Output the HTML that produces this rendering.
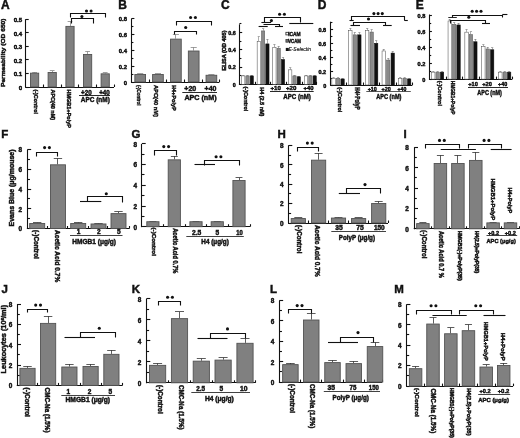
<!DOCTYPE html>
<html><head><meta charset="utf-8"><style>
html,body{margin:0;padding:0;background:#fff;}
svg{display:block;filter:blur(0.3px);}
text{font-family:"Liberation Sans", sans-serif;}
</style></head><body>
<svg width="520" height="438" viewBox="0 0 520 438" style='font-family:"Liberation Sans", sans-serif'>
<rect x="0" y="0" width="520" height="438" fill="#fff"/>
<text x="1" y="8.6" font-size="12" font-weight="bold" text-anchor="start" fill="#111" stroke="#111" stroke-width="0.45">A</text>
<line x1="25.5" y1="19.2" x2="25.5" y2="87.45" stroke="#111" stroke-width="1.1"/>
<line x1="25.25" y1="87.5" x2="114" y2="87.5" stroke="#111" stroke-width="1.1"/>
<line x1="114.5" y1="87" x2="114.5" y2="84.5" stroke="#111" stroke-width="1.1"/>
<line x1="25.7" y1="87.5" x2="28.7" y2="87.5" stroke="#111" stroke-width="1.1"/>
<text x="22.2" y="89.75" font-size="6.1" font-weight="bold" text-anchor="end" fill="#111" stroke="#111" stroke-width="0.45">0</text>
<line x1="25.7" y1="73.5" x2="28.7" y2="73.5" stroke="#111" stroke-width="1.1"/>
<text x="22.2" y="76.19" font-size="6.1" font-weight="bold" text-anchor="end" fill="#111" stroke="#111" stroke-width="0.45">0.1</text>
<line x1="25.7" y1="59.5" x2="28.7" y2="59.5" stroke="#111" stroke-width="1.1"/>
<text x="22.2" y="62.63" font-size="6.1" font-weight="bold" text-anchor="end" fill="#111" stroke="#111" stroke-width="0.45">0.2</text>
<line x1="25.7" y1="46.5" x2="28.7" y2="46.5" stroke="#111" stroke-width="1.1"/>
<text x="22.2" y="49.07" font-size="6.1" font-weight="bold" text-anchor="end" fill="#111" stroke="#111" stroke-width="0.45">0.3</text>
<line x1="25.7" y1="32.5" x2="28.7" y2="32.5" stroke="#111" stroke-width="1.1"/>
<text x="22.2" y="35.51" font-size="6.1" font-weight="bold" text-anchor="end" fill="#111" stroke="#111" stroke-width="0.45">0.4</text>
<line x1="25.7" y1="19.5" x2="28.7" y2="19.5" stroke="#111" stroke-width="1.1"/>
<text x="22.2" y="21.95" font-size="6.1" font-weight="bold" text-anchor="end" fill="#111" stroke="#111" stroke-width="0.45">0.5</text>
<line x1="43.5" y1="87" x2="43.5" y2="84.5" stroke="#111" stroke-width="1.1"/>
<line x1="61.5" y1="87" x2="61.5" y2="84.5" stroke="#111" stroke-width="1.1"/>
<line x1="78.5" y1="87" x2="78.5" y2="84.5" stroke="#111" stroke-width="1.1"/>
<line x1="96.5" y1="87" x2="96.5" y2="84.5" stroke="#111" stroke-width="1.1"/>
<line x1="34.5" y1="72.76" x2="34.5" y2="72.08" stroke="#888" stroke-width="0.8"/>
<line x1="32.22" y1="72.5" x2="36.98" y2="72.5" stroke="#888" stroke-width="0.8"/>
<rect x="30.5" y="73.16" width="8.2" height="13.84" fill="#808080" stroke="#525252" stroke-width="0.9"/>
<line x1="52.5" y1="72.08" x2="52.5" y2="71" stroke="#888" stroke-width="0.8"/>
<line x1="49.82" y1="70.5" x2="54.59" y2="70.5" stroke="#888" stroke-width="0.8"/>
<rect x="48.1" y="72.48" width="8.2" height="14.52" fill="#808080" stroke="#525252" stroke-width="0.9"/>
<line x1="70.5" y1="25.98" x2="70.5" y2="21.23" stroke="#888" stroke-width="0.8"/>
<line x1="67.61" y1="21.5" x2="72.39" y2="21.5" stroke="#888" stroke-width="0.8"/>
<rect x="65.9" y="26.38" width="8.2" height="60.62" fill="#808080" stroke="#525252" stroke-width="0.9"/>
<line x1="87.5" y1="54.05" x2="87.5" y2="51.34" stroke="#888" stroke-width="0.8"/>
<line x1="85.21" y1="51.5" x2="89.98" y2="51.5" stroke="#888" stroke-width="0.8"/>
<rect x="83.5" y="54.45" width="8.2" height="32.55" fill="#808080" stroke="#525252" stroke-width="0.9"/>
<line x1="105.5" y1="73.44" x2="105.5" y2="72.9" stroke="#888" stroke-width="0.8"/>
<line x1="102.81" y1="72.5" x2="107.59" y2="72.5" stroke="#888" stroke-width="0.8"/>
<rect x="101.1" y="73.84" width="8.2" height="13.16" fill="#808080" stroke="#525252" stroke-width="0.9"/>
<text transform="translate(33.5,89.5) rotate(90)" font-size="6" font-weight="bold" fill="#111" stroke="#111" stroke-width="0.45" textLength="24.5" lengthAdjust="spacingAndGlyphs">(-)Control</text>
<text transform="translate(50.6,89.5) rotate(90)" font-size="6" font-weight="bold" fill="#111" stroke="#111" stroke-width="0.45" textLength="30.5" lengthAdjust="spacingAndGlyphs">APC(40 nM)</text>
<text transform="translate(67.4,89.5) rotate(90)" font-size="6" font-weight="bold" fill="#111" stroke="#111" stroke-width="0.45" textLength="38.5" lengthAdjust="spacingAndGlyphs">HMGB1+PolyP</text>
<text x="86.4" y="94.5" font-size="6.6" font-weight="bold" text-anchor="middle" textLength="10.6" lengthAdjust="spacingAndGlyphs" fill="#111" stroke="#111" stroke-width="0.45">+20</text>
<text x="104.5" y="94.5" font-size="6.6" font-weight="bold" text-anchor="middle" textLength="10.6" lengthAdjust="spacingAndGlyphs" fill="#111" stroke="#111" stroke-width="0.45">+40</text>
<line x1="79" y1="95.5" x2="110" y2="95.5" stroke="#111" stroke-width="0.9"/>
<text x="80.8" y="102.4" font-size="6.9" font-weight="bold" text-anchor="start" textLength="29" lengthAdjust="spacingAndGlyphs" fill="#111" stroke="#111" stroke-width="0.45">APC (nM)</text>
<text transform="translate(5.2,87) rotate(-90)" font-size="6.2" font-weight="bold" fill="#111" stroke="#111" stroke-width="0.45" textLength="68.5" lengthAdjust="spacingAndGlyphs">Permeability (OD 650)</text>
<polyline points="70.5,17.5 70.5,13.5 105.5,13.5 105.5,17.5" fill="none" stroke="#111" stroke-width="1.1"/>
<circle cx="86.5" cy="11" r="1.55" fill="#111"/>
<circle cx="91.1" cy="11" r="1.55" fill="#111"/>
<polyline points="71.5,23.5 71.5,18.5 93.5,18.5 93.5,23.5" fill="none" stroke="#111" stroke-width="1.1"/>
<circle cx="81.9" cy="16.5" r="1.55" fill="#111"/>
<text x="118.3" y="8.6" font-size="12" font-weight="bold" text-anchor="start" fill="#111" stroke="#111" stroke-width="0.45">B</text>
<line x1="131.5" y1="18.6" x2="131.5" y2="82.45" stroke="#111" stroke-width="1.1"/>
<line x1="130.95" y1="82.5" x2="219.4" y2="82.5" stroke="#111" stroke-width="1.1"/>
<line x1="219.5" y1="82" x2="219.5" y2="79.5" stroke="#111" stroke-width="1.1"/>
<line x1="131.4" y1="82.5" x2="134.4" y2="82.5" stroke="#111" stroke-width="1.1"/>
<text x="127" y="84.67" font-size="5.9" font-weight="bold" text-anchor="end" fill="#111" stroke="#111" stroke-width="0.45">0</text>
<line x1="131.4" y1="66.5" x2="134.4" y2="66.5" stroke="#111" stroke-width="1.1"/>
<text x="127" y="68.82" font-size="5.9" font-weight="bold" text-anchor="end" fill="#111" stroke="#111" stroke-width="0.45">0.2</text>
<line x1="131.4" y1="50.5" x2="134.4" y2="50.5" stroke="#111" stroke-width="1.1"/>
<text x="127" y="52.97" font-size="5.9" font-weight="bold" text-anchor="end" fill="#111" stroke="#111" stroke-width="0.45">0.4</text>
<line x1="131.4" y1="34.5" x2="134.4" y2="34.5" stroke="#111" stroke-width="1.1"/>
<text x="127" y="37.12" font-size="5.9" font-weight="bold" text-anchor="end" fill="#111" stroke="#111" stroke-width="0.45">0.6</text>
<line x1="131.4" y1="18.5" x2="134.4" y2="18.5" stroke="#111" stroke-width="1.1"/>
<text x="127" y="21.27" font-size="5.9" font-weight="bold" text-anchor="end" fill="#111" stroke="#111" stroke-width="0.45">0.8</text>
<line x1="131.4" y1="74.5" x2="133.4" y2="74.5" stroke="#111" stroke-width="1.1"/>
<line x1="131.4" y1="58.5" x2="133.4" y2="58.5" stroke="#111" stroke-width="1.1"/>
<line x1="131.4" y1="42.5" x2="133.4" y2="42.5" stroke="#111" stroke-width="1.1"/>
<line x1="131.4" y1="26.5" x2="133.4" y2="26.5" stroke="#111" stroke-width="1.1"/>
<line x1="149.5" y1="82" x2="149.5" y2="79.5" stroke="#111" stroke-width="1.1"/>
<line x1="166.5" y1="82" x2="166.5" y2="79.5" stroke="#111" stroke-width="1.1"/>
<line x1="184.5" y1="82" x2="184.5" y2="79.5" stroke="#111" stroke-width="1.1"/>
<line x1="202.5" y1="82" x2="202.5" y2="79.5" stroke="#111" stroke-width="1.1"/>
<line x1="140.5" y1="74.08" x2="140.5" y2="73.84" stroke="#888" stroke-width="0.8"/>
<line x1="137.15" y1="73.5" x2="143.25" y2="73.5" stroke="#888" stroke-width="0.8"/>
<rect x="134.85" y="74.48" width="10.7" height="7.53" fill="#808080" stroke="#525252" stroke-width="0.9"/>
<line x1="157.5" y1="74.08" x2="157.5" y2="73.84" stroke="#888" stroke-width="0.8"/>
<line x1="154.9" y1="73.5" x2="161" y2="73.5" stroke="#888" stroke-width="0.8"/>
<rect x="152.6" y="74.48" width="10.7" height="7.53" fill="#808080" stroke="#525252" stroke-width="0.9"/>
<line x1="175.5" y1="38.73" x2="175.5" y2="34.21" stroke="#888" stroke-width="0.8"/>
<line x1="172.85" y1="34.5" x2="178.95" y2="34.5" stroke="#888" stroke-width="0.8"/>
<rect x="170.55" y="39.13" width="10.7" height="42.87" fill="#808080" stroke="#525252" stroke-width="0.9"/>
<line x1="193.5" y1="50.62" x2="193.5" y2="47.13" stroke="#888" stroke-width="0.8"/>
<line x1="190.65" y1="47.5" x2="196.75" y2="47.5" stroke="#888" stroke-width="0.8"/>
<rect x="188.35" y="51.02" width="10.7" height="30.98" fill="#808080" stroke="#525252" stroke-width="0.9"/>
<line x1="211.5" y1="74.87" x2="211.5" y2="74.63" stroke="#888" stroke-width="0.8"/>
<line x1="208.35" y1="74.5" x2="214.45" y2="74.5" stroke="#888" stroke-width="0.8"/>
<rect x="206.05" y="75.27" width="10.7" height="6.73" fill="#808080" stroke="#525252" stroke-width="0.9"/>
<text transform="translate(136.5,85) rotate(90)" font-size="6" font-weight="bold" fill="#111" stroke="#111" stroke-width="0.45" textLength="20.5" lengthAdjust="spacingAndGlyphs">(-)Control</text>
<text transform="translate(154.3,85) rotate(90)" font-size="6" font-weight="bold" fill="#111" stroke="#111" stroke-width="0.45" textLength="32" lengthAdjust="spacingAndGlyphs">APC(40 nM)</text>
<text transform="translate(172.2,85) rotate(90)" font-size="6" font-weight="bold" fill="#111" stroke="#111" stroke-width="0.45" textLength="25.8" lengthAdjust="spacingAndGlyphs">H4+PolyP</text>
<text x="190.3" y="90.8" font-size="7" font-weight="bold" text-anchor="middle" textLength="12" lengthAdjust="spacingAndGlyphs" fill="#111" stroke="#111" stroke-width="0.45">+20</text>
<text x="210.5" y="90.8" font-size="7" font-weight="bold" text-anchor="middle" textLength="11.8" lengthAdjust="spacingAndGlyphs" fill="#111" stroke="#111" stroke-width="0.45">+40</text>
<line x1="182.3" y1="92.5" x2="217" y2="92.5" stroke="#111" stroke-width="0.9"/>
<text x="184.4" y="99.7" font-size="7" font-weight="bold" text-anchor="start" textLength="32.2" lengthAdjust="spacingAndGlyphs" fill="#111" stroke="#111" stroke-width="0.45">APC (nM)</text>
<polyline points="176.5,25.5 176.5,21.5 211.5,21.5 211.5,25.5" fill="none" stroke="#111" stroke-width="1.1"/>
<circle cx="190.6" cy="17.5" r="1.55" fill="#111"/>
<circle cx="195.4" cy="17.5" r="1.55" fill="#111"/>
<polyline points="174.5,34.5 174.5,31.5 196.5,31.5 196.5,34.5" fill="none" stroke="#111" stroke-width="1.1"/>
<circle cx="185.7" cy="27.5" r="1.55" fill="#111"/>
<text x="221" y="8.6" font-size="12" font-weight="bold" text-anchor="start" fill="#111" stroke="#111" stroke-width="0.45">C</text>
<line x1="239.5" y1="24.3" x2="239.5" y2="84.75" stroke="#111" stroke-width="1.1"/>
<line x1="238.95" y1="84.5" x2="316.8" y2="84.5" stroke="#111" stroke-width="1.1"/>
<line x1="316.5" y1="84.3" x2="316.5" y2="81.8" stroke="#111" stroke-width="1.1"/>
<line x1="239.4" y1="84.5" x2="242.2" y2="84.5" stroke="#111" stroke-width="1.1"/>
<text x="235.7" y="86.79" font-size="5.4" font-weight="bold" text-anchor="end" fill="#111" stroke="#111" stroke-width="0.45">0</text>
<line x1="239.4" y1="67.5" x2="242.2" y2="67.5" stroke="#111" stroke-width="1.1"/>
<text x="235.7" y="69.49" font-size="5.4" font-weight="bold" text-anchor="end" fill="#111" stroke="#111" stroke-width="0.45">0.2</text>
<line x1="239.4" y1="49.5" x2="242.2" y2="49.5" stroke="#111" stroke-width="1.1"/>
<text x="235.7" y="52.19" font-size="5.4" font-weight="bold" text-anchor="end" fill="#111" stroke="#111" stroke-width="0.45">0.4</text>
<line x1="239.4" y1="32.5" x2="242.2" y2="32.5" stroke="#111" stroke-width="1.1"/>
<text x="235.7" y="34.89" font-size="5.4" font-weight="bold" text-anchor="end" fill="#111" stroke="#111" stroke-width="0.45">0.6</text>
<line x1="239.4" y1="75.5" x2="241.4" y2="75.5" stroke="#111" stroke-width="1.1"/>
<line x1="239.4" y1="58.5" x2="241.4" y2="58.5" stroke="#111" stroke-width="1.1"/>
<line x1="239.4" y1="41.5" x2="241.4" y2="41.5" stroke="#111" stroke-width="1.1"/>
<line x1="239.4" y1="23.5" x2="241.4" y2="23.5" stroke="#111" stroke-width="1.1"/>
<line x1="255.5" y1="84.3" x2="255.5" y2="81.8" stroke="#111" stroke-width="1.1"/>
<line x1="270.5" y1="84.3" x2="270.5" y2="81.8" stroke="#111" stroke-width="1.1"/>
<line x1="286.5" y1="84.3" x2="286.5" y2="81.8" stroke="#111" stroke-width="1.1"/>
<line x1="302.5" y1="84.3" x2="302.5" y2="81.8" stroke="#111" stroke-width="1.1"/>
<line x1="243.5" y1="75.65" x2="243.5" y2="75.22" stroke="#777" stroke-width="0.6"/>
<line x1="242.1" y1="75.5" x2="244.3" y2="75.5" stroke="#777" stroke-width="0.6"/>
<rect x="241.55" y="75.9" width="3.3" height="8.4" fill="#ffffff" stroke="#444" stroke-width="0.5"/>
<line x1="247.5" y1="75.65" x2="247.5" y2="75.22" stroke="#777" stroke-width="0.6"/>
<line x1="246.4" y1="75.5" x2="248.6" y2="75.5" stroke="#777" stroke-width="0.6"/>
<rect x="245.85" y="75.9" width="3.3" height="8.4" fill="#8a8a8a" stroke="#555" stroke-width="0.5"/>
<line x1="251.5" y1="75.65" x2="251.5" y2="75.22" stroke="#777" stroke-width="0.6"/>
<line x1="250.7" y1="75.5" x2="252.9" y2="75.5" stroke="#777" stroke-width="0.6"/>
<rect x="250.15" y="75.9" width="3.3" height="8.4" fill="#111111" stroke="#111" stroke-width="0.5"/>
<line x1="258.5" y1="41.05" x2="258.5" y2="36.72" stroke="#777" stroke-width="0.6"/>
<line x1="257.7" y1="36.5" x2="259.9" y2="36.5" stroke="#777" stroke-width="0.6"/>
<rect x="257.15" y="41.3" width="3.3" height="43" fill="#ffffff" stroke="#444" stroke-width="0.5"/>
<line x1="263.5" y1="30.67" x2="263.5" y2="28.94" stroke="#777" stroke-width="0.6"/>
<line x1="262" y1="28.5" x2="264.2" y2="28.5" stroke="#777" stroke-width="0.6"/>
<rect x="261.45" y="30.92" width="3.3" height="53.38" fill="#8a8a8a" stroke="#555" stroke-width="0.5"/>
<line x1="267.5" y1="43.64" x2="267.5" y2="39.32" stroke="#777" stroke-width="0.6"/>
<line x1="266.3" y1="39.5" x2="268.5" y2="39.5" stroke="#777" stroke-width="0.6"/>
<rect x="265.75" y="43.89" width="3.3" height="40.41" fill="#111111" stroke="#111" stroke-width="0.5"/>
<line x1="274.5" y1="47.1" x2="274.5" y2="44.51" stroke="#777" stroke-width="0.6"/>
<line x1="273.3" y1="44.5" x2="275.5" y2="44.5" stroke="#777" stroke-width="0.6"/>
<rect x="272.75" y="47.35" width="3.3" height="36.95" fill="#ffffff" stroke="#444" stroke-width="0.5"/>
<line x1="278.5" y1="47.97" x2="278.5" y2="46.24" stroke="#777" stroke-width="0.6"/>
<line x1="277.6" y1="46.5" x2="279.8" y2="46.5" stroke="#777" stroke-width="0.6"/>
<rect x="277.05" y="48.22" width="3.3" height="36.08" fill="#8a8a8a" stroke="#555" stroke-width="0.5"/>
<line x1="283.5" y1="59.22" x2="283.5" y2="57.49" stroke="#777" stroke-width="0.6"/>
<line x1="281.9" y1="57.5" x2="284.1" y2="57.5" stroke="#777" stroke-width="0.6"/>
<rect x="281.35" y="59.47" width="3.3" height="24.83" fill="#111111" stroke="#111" stroke-width="0.5"/>
<line x1="290.5" y1="69.59" x2="290.5" y2="67.86" stroke="#777" stroke-width="0.6"/>
<line x1="289.1" y1="67.5" x2="291.3" y2="67.5" stroke="#777" stroke-width="0.6"/>
<rect x="288.55" y="69.84" width="3.3" height="14.46" fill="#ffffff" stroke="#444" stroke-width="0.5"/>
<line x1="294.5" y1="75.65" x2="294.5" y2="75.22" stroke="#777" stroke-width="0.6"/>
<line x1="293.4" y1="75.5" x2="295.6" y2="75.5" stroke="#777" stroke-width="0.6"/>
<rect x="292.85" y="75.9" width="3.3" height="8.4" fill="#8a8a8a" stroke="#555" stroke-width="0.5"/>
<line x1="298.5" y1="76.52" x2="298.5" y2="76.08" stroke="#777" stroke-width="0.6"/>
<line x1="297.7" y1="76.5" x2="299.9" y2="76.5" stroke="#777" stroke-width="0.6"/>
<rect x="297.15" y="76.77" width="3.3" height="7.54" fill="#111111" stroke="#111" stroke-width="0.5"/>
<line x1="306.5" y1="75.65" x2="306.5" y2="75.22" stroke="#777" stroke-width="0.6"/>
<line x1="305" y1="75.5" x2="307.2" y2="75.5" stroke="#777" stroke-width="0.6"/>
<rect x="304.45" y="75.9" width="3.3" height="8.4" fill="#ffffff" stroke="#444" stroke-width="0.5"/>
<line x1="310.5" y1="75.65" x2="310.5" y2="75.22" stroke="#777" stroke-width="0.6"/>
<line x1="309.3" y1="75.5" x2="311.5" y2="75.5" stroke="#777" stroke-width="0.6"/>
<rect x="308.75" y="75.9" width="3.3" height="8.4" fill="#8a8a8a" stroke="#555" stroke-width="0.5"/>
<line x1="314.5" y1="75.65" x2="314.5" y2="75.22" stroke="#777" stroke-width="0.6"/>
<line x1="313.6" y1="75.5" x2="315.8" y2="75.5" stroke="#777" stroke-width="0.6"/>
<rect x="313.05" y="75.9" width="3.3" height="8.4" fill="#111111" stroke="#111" stroke-width="0.5"/>
<text transform="translate(244.4,86.5) rotate(90)" font-size="5.8" font-weight="bold" fill="#111" stroke="#111" stroke-width="0.45" textLength="24.8" lengthAdjust="spacingAndGlyphs">(-)Control</text>
<text transform="translate(260.2,87.2) rotate(90)" font-size="6" font-weight="bold" fill="#111" stroke="#111" stroke-width="0.45" textLength="29.2" lengthAdjust="spacingAndGlyphs">H4 (2.5 nM)</text>
<text x="275.7" y="90.3" font-size="6.2" font-weight="bold" text-anchor="middle" textLength="10.4" lengthAdjust="spacingAndGlyphs" fill="#111" stroke="#111" stroke-width="0.45">+10</text>
<text x="291.1" y="90.3" font-size="6.2" font-weight="bold" text-anchor="middle" textLength="10.4" lengthAdjust="spacingAndGlyphs" fill="#111" stroke="#111" stroke-width="0.45">+20</text>
<text x="308.6" y="90.3" font-size="6.2" font-weight="bold" text-anchor="middle" textLength="10" lengthAdjust="spacingAndGlyphs" fill="#111" stroke="#111" stroke-width="0.45">+40</text>
<line x1="270" y1="91.5" x2="313.7" y2="91.5" stroke="#111" stroke-width="0.9"/>
<text x="283.3" y="99.3" font-size="6.9" font-weight="bold" text-anchor="start" textLength="27.5" lengthAdjust="spacingAndGlyphs" fill="#111" stroke="#111" stroke-width="0.45">APC (nM)</text>
<text transform="translate(225.7,70.5) rotate(-90)" font-size="5" font-weight="bold" fill="#111" stroke="#111" stroke-width="0.45" textLength="40" lengthAdjust="spacingAndGlyphs">ELISA (OD 405)</text>
<rect x="285.9" y="32.3" width="2.6" height="2.6" fill="#fff" stroke="#222" stroke-width="0.8"/>
<text x="288.2" y="36.4" font-size="6" font-weight="bold" text-anchor="start" textLength="12.5" lengthAdjust="spacingAndGlyphs" fill="#111" stroke="#111" stroke-width="0.45">ICAM</text>
<rect x="285.9" y="39.4" width="2.6" height="2.8" fill="#707070" stroke="#333" stroke-width="0.7"/>
<text x="288.2" y="43.4" font-size="6" font-weight="bold" text-anchor="start" textLength="12.8" lengthAdjust="spacingAndGlyphs" fill="#111" stroke="#111" stroke-width="0.45">VCAM</text>
<rect x="285.8" y="47.9" width="3" height="3.1" fill="#111"/>
<text x="288.4" y="51" font-size="6.2" font-weight="normal" text-anchor="start" textLength="22.6" lengthAdjust="spacingAndGlyphs" font-style="italic" fill="#111" stroke="#111" stroke-width="0.15">E-Selectin</text>
<polyline points="264.5,22.5 264.5,17.5 300.5,17.5 300.5,22.5" fill="none" stroke="#111" stroke-width="1.1"/>
<circle cx="279.6" cy="14.2" r="1.55" fill="#111"/>
<circle cx="284.4" cy="14.2" r="1.55" fill="#111"/>
<line x1="289.3" y1="23.5" x2="313.3" y2="23.5" stroke="#111" stroke-width="1.1"/>
<circle cx="271.4" cy="20.6" r="1.55" fill="#111"/>
<line x1="261.4" y1="22.5" x2="271" y2="22.5" stroke="#111" stroke-width="1.1"/>
<polyline points="263.5,24.5 263.5,24.5 279.5,24.5 279.5,26.5" fill="none" stroke="#111" stroke-width="1.1"/>
<line x1="258.6" y1="26.5" x2="267.7" y2="26.5" stroke="#111" stroke-width="1.1"/>
<line x1="275" y1="26.5" x2="283" y2="26.5" stroke="#111" stroke-width="1.1"/>
<text x="317.8" y="8.6" font-size="12" font-weight="bold" text-anchor="start" fill="#111" stroke="#111" stroke-width="0.45">D</text>
<line x1="330.5" y1="21.7" x2="330.5" y2="85.45" stroke="#111" stroke-width="1.1"/>
<line x1="330.15" y1="85.5" x2="412.4" y2="85.5" stroke="#111" stroke-width="1.1"/>
<line x1="412.5" y1="85" x2="412.5" y2="82.5" stroke="#111" stroke-width="1.1"/>
<line x1="330.6" y1="85.5" x2="333.1" y2="85.5" stroke="#111" stroke-width="1.1"/>
<text x="326.2" y="87.53" font-size="5.5" font-weight="bold" text-anchor="end" fill="#111" stroke="#111" stroke-width="0.45">0</text>
<line x1="330.6" y1="71.5" x2="333.1" y2="71.5" stroke="#111" stroke-width="1.1"/>
<text x="326.2" y="73.53" font-size="5.5" font-weight="bold" text-anchor="end" fill="#111" stroke="#111" stroke-width="0.45">0.2</text>
<line x1="330.6" y1="57.5" x2="333.1" y2="57.5" stroke="#111" stroke-width="1.1"/>
<text x="326.2" y="59.53" font-size="5.5" font-weight="bold" text-anchor="end" fill="#111" stroke="#111" stroke-width="0.45">0.4</text>
<line x1="330.6" y1="43.5" x2="333.1" y2="43.5" stroke="#111" stroke-width="1.1"/>
<text x="326.2" y="45.53" font-size="5.5" font-weight="bold" text-anchor="end" fill="#111" stroke="#111" stroke-width="0.45">0.6</text>
<line x1="330.6" y1="29.5" x2="333.1" y2="29.5" stroke="#111" stroke-width="1.1"/>
<text x="326.2" y="31.53" font-size="5.5" font-weight="bold" text-anchor="end" fill="#111" stroke="#111" stroke-width="0.45">0.8</text>
<line x1="330.6" y1="78.5" x2="332.4" y2="78.5" stroke="#111" stroke-width="1.1"/>
<line x1="330.6" y1="64.5" x2="332.4" y2="64.5" stroke="#111" stroke-width="1.1"/>
<line x1="330.6" y1="50.5" x2="332.4" y2="50.5" stroke="#111" stroke-width="1.1"/>
<line x1="330.6" y1="36.5" x2="332.4" y2="36.5" stroke="#111" stroke-width="1.1"/>
<line x1="330.6" y1="22.5" x2="332.4" y2="22.5" stroke="#111" stroke-width="1.1"/>
<line x1="346.5" y1="85" x2="346.5" y2="82.5" stroke="#111" stroke-width="1.1"/>
<line x1="363.5" y1="85" x2="363.5" y2="82.5" stroke="#111" stroke-width="1.1"/>
<line x1="379.5" y1="85" x2="379.5" y2="82.5" stroke="#111" stroke-width="1.1"/>
<line x1="396.5" y1="85" x2="396.5" y2="82.5" stroke="#111" stroke-width="1.1"/>
<line x1="333.5" y1="78" x2="333.5" y2="77.65" stroke="#777" stroke-width="0.6"/>
<line x1="332.45" y1="77.5" x2="334.65" y2="77.5" stroke="#777" stroke-width="0.6"/>
<rect x="331.85" y="78.25" width="3.4" height="6.75" fill="#ffffff" stroke="#444" stroke-width="0.5"/>
<line x1="338.5" y1="78" x2="338.5" y2="77.65" stroke="#777" stroke-width="0.6"/>
<line x1="336.95" y1="77.5" x2="339.15" y2="77.5" stroke="#777" stroke-width="0.6"/>
<rect x="336.35" y="78.25" width="3.4" height="6.75" fill="#8a8a8a" stroke="#555" stroke-width="0.5"/>
<line x1="342.5" y1="78.7" x2="342.5" y2="78.35" stroke="#777" stroke-width="0.6"/>
<line x1="341.45" y1="78.5" x2="343.65" y2="78.5" stroke="#777" stroke-width="0.6"/>
<rect x="340.85" y="78.95" width="3.4" height="6.05" fill="#111111" stroke="#111" stroke-width="0.5"/>
<line x1="350.5" y1="30.4" x2="350.5" y2="28.3" stroke="#777" stroke-width="0.6"/>
<line x1="349.25" y1="28.5" x2="351.45" y2="28.5" stroke="#777" stroke-width="0.6"/>
<rect x="348.65" y="30.65" width="3.4" height="54.35" fill="#ffffff" stroke="#444" stroke-width="0.5"/>
<line x1="354.5" y1="34.6" x2="354.5" y2="32.5" stroke="#777" stroke-width="0.6"/>
<line x1="353.75" y1="32.5" x2="355.95" y2="32.5" stroke="#777" stroke-width="0.6"/>
<rect x="353.15" y="34.85" width="3.4" height="50.15" fill="#8a8a8a" stroke="#555" stroke-width="0.5"/>
<line x1="359.5" y1="34.6" x2="359.5" y2="32.5" stroke="#777" stroke-width="0.6"/>
<line x1="358.25" y1="32.5" x2="360.45" y2="32.5" stroke="#777" stroke-width="0.6"/>
<rect x="357.65" y="34.85" width="3.4" height="50.15" fill="#111111" stroke="#111" stroke-width="0.5"/>
<line x1="367.5" y1="30.4" x2="367.5" y2="28.3" stroke="#777" stroke-width="0.6"/>
<line x1="366.05" y1="28.5" x2="368.25" y2="28.5" stroke="#777" stroke-width="0.6"/>
<rect x="365.45" y="30.65" width="3.4" height="54.35" fill="#ffffff" stroke="#444" stroke-width="0.5"/>
<line x1="371.5" y1="31.8" x2="371.5" y2="29.7" stroke="#777" stroke-width="0.6"/>
<line x1="370.55" y1="29.5" x2="372.75" y2="29.5" stroke="#777" stroke-width="0.6"/>
<rect x="369.95" y="32.05" width="3.4" height="52.95" fill="#8a8a8a" stroke="#555" stroke-width="0.5"/>
<line x1="376.5" y1="43" x2="376.5" y2="40.9" stroke="#777" stroke-width="0.6"/>
<line x1="375.05" y1="40.5" x2="377.25" y2="40.5" stroke="#777" stroke-width="0.6"/>
<rect x="374.45" y="43.25" width="3.4" height="41.75" fill="#111111" stroke="#111" stroke-width="0.5"/>
<line x1="383.5" y1="50.7" x2="383.5" y2="49.3" stroke="#777" stroke-width="0.6"/>
<line x1="382.65" y1="49.5" x2="384.85" y2="49.5" stroke="#777" stroke-width="0.6"/>
<rect x="382.05" y="50.95" width="3.4" height="34.05" fill="#ffffff" stroke="#444" stroke-width="0.5"/>
<line x1="388.5" y1="59.8" x2="388.5" y2="58.4" stroke="#777" stroke-width="0.6"/>
<line x1="387.15" y1="58.5" x2="389.35" y2="58.5" stroke="#777" stroke-width="0.6"/>
<rect x="386.55" y="60.05" width="3.4" height="24.95" fill="#8a8a8a" stroke="#555" stroke-width="0.5"/>
<line x1="392.5" y1="52.8" x2="392.5" y2="51.4" stroke="#777" stroke-width="0.6"/>
<line x1="391.65" y1="51.5" x2="393.85" y2="51.5" stroke="#777" stroke-width="0.6"/>
<rect x="391.05" y="53.05" width="3.4" height="31.95" fill="#111111" stroke="#111" stroke-width="0.5"/>
<line x1="400.5" y1="78" x2="400.5" y2="77.65" stroke="#777" stroke-width="0.6"/>
<line x1="399.05" y1="77.5" x2="401.25" y2="77.5" stroke="#777" stroke-width="0.6"/>
<rect x="398.45" y="78.25" width="3.4" height="6.75" fill="#ffffff" stroke="#444" stroke-width="0.5"/>
<line x1="404.5" y1="78" x2="404.5" y2="77.65" stroke="#777" stroke-width="0.6"/>
<line x1="403.55" y1="77.5" x2="405.75" y2="77.5" stroke="#777" stroke-width="0.6"/>
<rect x="402.95" y="78.25" width="3.4" height="6.75" fill="#8a8a8a" stroke="#555" stroke-width="0.5"/>
<line x1="409.5" y1="78.7" x2="409.5" y2="78.35" stroke="#777" stroke-width="0.6"/>
<line x1="408.05" y1="78.5" x2="410.25" y2="78.5" stroke="#777" stroke-width="0.6"/>
<rect x="407.45" y="78.95" width="3.4" height="6.05" fill="#111111" stroke="#111" stroke-width="0.5"/>
<text transform="translate(338.2,87.2) rotate(90)" font-size="6.2" font-weight="bold" fill="#111" stroke="#111" stroke-width="0.45" textLength="25.2" lengthAdjust="spacingAndGlyphs">(-)Control</text>
<text transform="translate(354.6,87.2) rotate(90)" font-size="6.6" font-weight="bold" fill="#111" stroke="#111" stroke-width="0.45" textLength="22.4" lengthAdjust="spacingAndGlyphs">H4+PolyP</text>
<text x="372.3" y="90.8" font-size="6.2" font-weight="bold" text-anchor="middle" textLength="9.2" lengthAdjust="spacingAndGlyphs" fill="#111" stroke="#111" stroke-width="0.45">+10</text>
<text x="386.2" y="90.8" font-size="6.2" font-weight="bold" text-anchor="middle" textLength="9.2" lengthAdjust="spacingAndGlyphs" fill="#111" stroke="#111" stroke-width="0.45">+20</text>
<text x="401.9" y="90.8" font-size="6.2" font-weight="bold" text-anchor="middle" textLength="8.8" lengthAdjust="spacingAndGlyphs" fill="#111" stroke="#111" stroke-width="0.45">+40</text>
<line x1="366.3" y1="91.5" x2="410.8" y2="91.5" stroke="#111" stroke-width="0.7"/>
<text x="376.3" y="99.3" font-size="6.9" font-weight="bold" text-anchor="start" textLength="25.1" lengthAdjust="spacingAndGlyphs" fill="#111" stroke="#111" stroke-width="0.45">APC (nM)</text>
<polyline points="351.5,20.5 351.5,16.5 404.5,16.5 404.5,20.5" fill="none" stroke="#111" stroke-width="1.1"/>
<line x1="404.4" y1="20.5" x2="407.8" y2="20.5" stroke="#111" stroke-width="1.1"/>
<circle cx="373.9" cy="13.6" r="1.55" fill="#111"/>
<circle cx="378.1" cy="13.6" r="1.55" fill="#111"/>
<circle cx="382.3" cy="13.6" r="1.55" fill="#111"/>
<line x1="349.5" y1="20.5" x2="353.7" y2="20.5" stroke="#111" stroke-width="1.1"/>
<polyline points="353.5,25.5 353.5,22.5 385.5,22.5 385.5,25.5" fill="none" stroke="#111" stroke-width="1.1"/>
<circle cx="368.5" cy="19" r="1.55" fill="#111"/>
<line x1="350.5" y1="25.5" x2="360" y2="25.5" stroke="#111" stroke-width="1.1"/>
<line x1="383" y1="25.5" x2="391.7" y2="25.5" stroke="#111" stroke-width="1.1"/>
<text x="415.8" y="8.6" font-size="12" font-weight="bold" text-anchor="start" fill="#111" stroke="#111" stroke-width="0.45">E</text>
<line x1="429.5" y1="14.5" x2="429.5" y2="79.55" stroke="#111" stroke-width="1.1"/>
<line x1="428.95" y1="79.5" x2="512.3" y2="79.5" stroke="#111" stroke-width="1.1"/>
<line x1="512.5" y1="79.1" x2="512.5" y2="76.6" stroke="#111" stroke-width="1.1"/>
<line x1="429.4" y1="79.5" x2="431.9" y2="79.5" stroke="#111" stroke-width="1.1"/>
<text x="425.4" y="81.67" font-size="5.6" font-weight="bold" text-anchor="end" fill="#111" stroke="#111" stroke-width="0.45">0</text>
<line x1="429.4" y1="63.5" x2="431.9" y2="63.5" stroke="#111" stroke-width="1.1"/>
<text x="425.4" y="65.67" font-size="5.6" font-weight="bold" text-anchor="end" fill="#111" stroke="#111" stroke-width="0.45">0.2</text>
<line x1="429.4" y1="47.5" x2="431.9" y2="47.5" stroke="#111" stroke-width="1.1"/>
<text x="425.4" y="49.67" font-size="5.6" font-weight="bold" text-anchor="end" fill="#111" stroke="#111" stroke-width="0.45">0.4</text>
<line x1="429.4" y1="31.5" x2="431.9" y2="31.5" stroke="#111" stroke-width="1.1"/>
<text x="425.4" y="33.67" font-size="5.6" font-weight="bold" text-anchor="end" fill="#111" stroke="#111" stroke-width="0.45">0.6</text>
<line x1="429.4" y1="15.5" x2="431.9" y2="15.5" stroke="#111" stroke-width="1.1"/>
<text x="425.4" y="17.67" font-size="5.6" font-weight="bold" text-anchor="end" fill="#111" stroke="#111" stroke-width="0.45">0.8</text>
<line x1="429.4" y1="71.5" x2="431.2" y2="71.5" stroke="#111" stroke-width="1.1"/>
<line x1="429.4" y1="55.5" x2="431.2" y2="55.5" stroke="#111" stroke-width="1.1"/>
<line x1="429.4" y1="39.5" x2="431.2" y2="39.5" stroke="#111" stroke-width="1.1"/>
<line x1="429.4" y1="23.5" x2="431.2" y2="23.5" stroke="#111" stroke-width="1.1"/>
<line x1="446.5" y1="79.1" x2="446.5" y2="76.6" stroke="#111" stroke-width="1.1"/>
<line x1="462.5" y1="79.1" x2="462.5" y2="76.6" stroke="#111" stroke-width="1.1"/>
<line x1="479.5" y1="79.1" x2="479.5" y2="76.6" stroke="#111" stroke-width="1.1"/>
<line x1="496.5" y1="79.1" x2="496.5" y2="76.6" stroke="#111" stroke-width="1.1"/>
<line x1="433.5" y1="71.9" x2="433.5" y2="71.5" stroke="#777" stroke-width="0.6"/>
<line x1="432.15" y1="71.5" x2="434.35" y2="71.5" stroke="#777" stroke-width="0.6"/>
<rect x="431.55" y="72.15" width="3.4" height="6.95" fill="#ffffff" stroke="#444" stroke-width="0.5"/>
<line x1="437.5" y1="71.9" x2="437.5" y2="71.5" stroke="#777" stroke-width="0.6"/>
<line x1="436.55" y1="71.5" x2="438.75" y2="71.5" stroke="#777" stroke-width="0.6"/>
<rect x="435.95" y="72.15" width="3.4" height="6.95" fill="#8a8a8a" stroke="#555" stroke-width="0.5"/>
<line x1="442.5" y1="71.9" x2="442.5" y2="71.5" stroke="#777" stroke-width="0.6"/>
<line x1="440.95" y1="71.5" x2="443.15" y2="71.5" stroke="#777" stroke-width="0.6"/>
<rect x="440.35" y="72.15" width="3.4" height="6.95" fill="#111111" stroke="#111" stroke-width="0.5"/>
<line x1="449.5" y1="20.7" x2="449.5" y2="19.1" stroke="#777" stroke-width="0.6"/>
<line x1="448.65" y1="19.5" x2="450.85" y2="19.5" stroke="#777" stroke-width="0.6"/>
<rect x="448.05" y="20.95" width="3.4" height="58.15" fill="#ffffff" stroke="#444" stroke-width="0.5"/>
<line x1="454.5" y1="24.06" x2="454.5" y2="22.46" stroke="#777" stroke-width="0.6"/>
<line x1="453.05" y1="22.5" x2="455.25" y2="22.5" stroke="#777" stroke-width="0.6"/>
<rect x="452.45" y="24.31" width="3.4" height="54.79" fill="#8a8a8a" stroke="#555" stroke-width="0.5"/>
<line x1="458.5" y1="24.7" x2="458.5" y2="23.1" stroke="#777" stroke-width="0.6"/>
<line x1="457.45" y1="23.5" x2="459.65" y2="23.5" stroke="#777" stroke-width="0.6"/>
<rect x="456.85" y="24.95" width="3.4" height="54.15" fill="#111111" stroke="#111" stroke-width="0.5"/>
<line x1="466.5" y1="31.9" x2="466.5" y2="29.5" stroke="#777" stroke-width="0.6"/>
<line x1="465.45" y1="29.5" x2="467.65" y2="29.5" stroke="#777" stroke-width="0.6"/>
<rect x="464.85" y="32.15" width="3.4" height="46.95" fill="#ffffff" stroke="#444" stroke-width="0.5"/>
<line x1="470.5" y1="34.3" x2="470.5" y2="31.9" stroke="#777" stroke-width="0.6"/>
<line x1="469.85" y1="31.5" x2="472.05" y2="31.5" stroke="#777" stroke-width="0.6"/>
<rect x="469.25" y="34.55" width="3.4" height="44.55" fill="#8a8a8a" stroke="#555" stroke-width="0.5"/>
<line x1="475.5" y1="41.5" x2="475.5" y2="39.1" stroke="#777" stroke-width="0.6"/>
<line x1="474.25" y1="39.5" x2="476.45" y2="39.5" stroke="#777" stroke-width="0.6"/>
<rect x="473.65" y="41.75" width="3.4" height="37.35" fill="#111111" stroke="#111" stroke-width="0.5"/>
<line x1="483.5" y1="46.3" x2="483.5" y2="44.7" stroke="#777" stroke-width="0.6"/>
<line x1="482.25" y1="44.5" x2="484.45" y2="44.5" stroke="#777" stroke-width="0.6"/>
<rect x="481.65" y="46.55" width="3.4" height="32.55" fill="#ffffff" stroke="#444" stroke-width="0.5"/>
<line x1="487.5" y1="48.7" x2="487.5" y2="47.1" stroke="#777" stroke-width="0.6"/>
<line x1="486.65" y1="47.5" x2="488.85" y2="47.5" stroke="#777" stroke-width="0.6"/>
<rect x="486.05" y="48.95" width="3.4" height="30.15" fill="#8a8a8a" stroke="#555" stroke-width="0.5"/>
<line x1="492.5" y1="49.5" x2="492.5" y2="47.9" stroke="#777" stroke-width="0.6"/>
<line x1="491.05" y1="47.5" x2="493.25" y2="47.5" stroke="#777" stroke-width="0.6"/>
<rect x="490.45" y="49.75" width="3.4" height="29.35" fill="#111111" stroke="#111" stroke-width="0.5"/>
<line x1="500.5" y1="71.9" x2="500.5" y2="71.5" stroke="#777" stroke-width="0.6"/>
<line x1="499.25" y1="71.5" x2="501.45" y2="71.5" stroke="#777" stroke-width="0.6"/>
<rect x="498.65" y="72.15" width="3.4" height="6.95" fill="#ffffff" stroke="#444" stroke-width="0.5"/>
<line x1="504.5" y1="71.9" x2="504.5" y2="71.5" stroke="#777" stroke-width="0.6"/>
<line x1="503.65" y1="71.5" x2="505.85" y2="71.5" stroke="#777" stroke-width="0.6"/>
<rect x="503.05" y="72.15" width="3.4" height="6.95" fill="#8a8a8a" stroke="#555" stroke-width="0.5"/>
<line x1="509.5" y1="71.9" x2="509.5" y2="71.5" stroke="#777" stroke-width="0.6"/>
<line x1="508.05" y1="71.5" x2="510.25" y2="71.5" stroke="#777" stroke-width="0.6"/>
<rect x="507.45" y="72.15" width="3.4" height="6.95" fill="#111111" stroke="#111" stroke-width="0.5"/>
<text transform="translate(437.8,80.7) rotate(90)" font-size="6.2" font-weight="bold" fill="#111" stroke="#111" stroke-width="0.45" textLength="25.3" lengthAdjust="spacingAndGlyphs">(-)Control</text>
<text transform="translate(451.4,80.7) rotate(90)" font-size="6" font-weight="bold" fill="#111" stroke="#111" stroke-width="0.45" textLength="33.8" lengthAdjust="spacingAndGlyphs">HMGB1+PolyP</text>
<text x="473.1" y="86.2" font-size="6.2" font-weight="bold" text-anchor="middle" textLength="9.6" lengthAdjust="spacingAndGlyphs" fill="#111" stroke="#111" stroke-width="0.45">+10</text>
<text x="487" y="86.2" font-size="6.2" font-weight="bold" text-anchor="middle" textLength="9.6" lengthAdjust="spacingAndGlyphs" fill="#111" stroke="#111" stroke-width="0.45">+20</text>
<text x="502.6" y="86.2" font-size="6.2" font-weight="bold" text-anchor="middle" textLength="9.2" lengthAdjust="spacingAndGlyphs" fill="#111" stroke="#111" stroke-width="0.45">+40</text>
<line x1="468" y1="87.5" x2="508" y2="87.5" stroke="#111" stroke-width="0.9"/>
<text x="477.3" y="94.8" font-size="6.9" font-weight="bold" text-anchor="start" textLength="24.6" lengthAdjust="spacingAndGlyphs" fill="#111" stroke="#111" stroke-width="0.45">APC (nM)</text>
<polyline points="452.5,17.5 452.5,15.5 502.5,15.5 502.5,17.5" fill="none" stroke="#111" stroke-width="1.1"/>
<line x1="502.3" y1="14.5" x2="507.4" y2="14.5" stroke="#111" stroke-width="1.1"/>
<line x1="448.3" y1="17.5" x2="456.8" y2="17.5" stroke="#111" stroke-width="0.9"/>
<circle cx="472.2" cy="11.3" r="1.55" fill="#111"/>
<circle cx="476.6" cy="11.3" r="1.55" fill="#111"/>
<circle cx="481" cy="11.3" r="1.55" fill="#111"/>
<polyline points="450.5,23.5 450.5,20.5 485.5,20.5 485.5,23.5" fill="none" stroke="#111" stroke-width="1.1"/>
<line x1="482" y1="23.5" x2="490" y2="23.5" stroke="#111" stroke-width="1.1"/>
<circle cx="468.8" cy="17.3" r="1.55" fill="#111"/>
<text x="1.3" y="138.4" font-size="11.5" font-weight="bold" text-anchor="start" fill="#111" stroke="#111" stroke-width="0.45">F</text>
<line x1="27.5" y1="149.6" x2="27.5" y2="228.95" stroke="#111" stroke-width="1.1"/>
<line x1="26.9" y1="228.5" x2="129.5" y2="228.5" stroke="#111" stroke-width="1.1"/>
<line x1="129.5" y1="228.5" x2="129.5" y2="226" stroke="#111" stroke-width="1.1"/>
<line x1="27.35" y1="228.5" x2="31.15" y2="228.5" stroke="#111" stroke-width="1.1"/>
<text x="22" y="231.35" font-size="6.4" font-weight="bold" text-anchor="end" fill="#111" stroke="#111" stroke-width="0.45">0</text>
<line x1="27.35" y1="208.5" x2="31.15" y2="208.5" stroke="#111" stroke-width="1.1"/>
<text x="22" y="211.63" font-size="6.4" font-weight="bold" text-anchor="end" fill="#111" stroke="#111" stroke-width="0.45">2</text>
<line x1="27.35" y1="189.5" x2="31.15" y2="189.5" stroke="#111" stroke-width="1.1"/>
<text x="22" y="191.91" font-size="6.4" font-weight="bold" text-anchor="end" fill="#111" stroke="#111" stroke-width="0.45">4</text>
<line x1="27.35" y1="169.5" x2="31.15" y2="169.5" stroke="#111" stroke-width="1.1"/>
<text x="22" y="172.19" font-size="6.4" font-weight="bold" text-anchor="end" fill="#111" stroke="#111" stroke-width="0.45">6</text>
<line x1="27.35" y1="149.5" x2="31.15" y2="149.5" stroke="#111" stroke-width="1.1"/>
<text x="22" y="152.47" font-size="6.4" font-weight="bold" text-anchor="end" fill="#111" stroke="#111" stroke-width="0.45">8</text>
<line x1="27.35" y1="218.5" x2="29.95" y2="218.5" stroke="#111" stroke-width="1.1"/>
<line x1="27.35" y1="198.5" x2="29.95" y2="198.5" stroke="#111" stroke-width="1.1"/>
<line x1="27.35" y1="179.5" x2="29.95" y2="179.5" stroke="#111" stroke-width="1.1"/>
<line x1="27.35" y1="159.5" x2="29.95" y2="159.5" stroke="#111" stroke-width="1.1"/>
<line x1="47.5" y1="228.5" x2="47.5" y2="226" stroke="#111" stroke-width="1.1"/>
<line x1="67.5" y1="228.5" x2="67.5" y2="226" stroke="#111" stroke-width="1.1"/>
<line x1="88.5" y1="228.5" x2="88.5" y2="226" stroke="#111" stroke-width="1.1"/>
<line x1="107.5" y1="228.5" x2="107.5" y2="226" stroke="#111" stroke-width="1.1"/>
<line x1="37.5" y1="223.08" x2="37.5" y2="222.78" stroke="#333" stroke-width="0.8"/>
<line x1="33.01" y1="222.5" x2="41.39" y2="222.5" stroke="#333" stroke-width="0.8"/>
<rect x="29.7" y="223.48" width="15" height="5.02" fill="#808080" stroke="#525252" stroke-width="0.9"/>
<line x1="57.5" y1="164.41" x2="57.5" y2="158.3" stroke="#333" stroke-width="0.8"/>
<line x1="53.76" y1="158.5" x2="62.14" y2="158.5" stroke="#333" stroke-width="0.8"/>
<rect x="50.45" y="164.81" width="15" height="63.69" fill="#808080" stroke="#525252" stroke-width="0.9"/>
<line x1="78.5" y1="223.08" x2="78.5" y2="222.58" stroke="#333" stroke-width="0.8"/>
<line x1="74.01" y1="222.5" x2="82.39" y2="222.5" stroke="#333" stroke-width="0.8"/>
<rect x="70.7" y="223.48" width="15" height="5.02" fill="#808080" stroke="#525252" stroke-width="0.9"/>
<line x1="98.5" y1="223.57" x2="98.5" y2="223.08" stroke="#333" stroke-width="0.8"/>
<line x1="94.31" y1="223.5" x2="102.69" y2="223.5" stroke="#333" stroke-width="0.8"/>
<rect x="91" y="223.97" width="15" height="4.53" fill="#808080" stroke="#525252" stroke-width="0.9"/>
<line x1="118.5" y1="213.22" x2="118.5" y2="211.74" stroke="#333" stroke-width="0.8"/>
<line x1="114.31" y1="211.5" x2="122.69" y2="211.5" stroke="#333" stroke-width="0.8"/>
<rect x="111" y="213.62" width="15" height="14.88" fill="#808080" stroke="#525252" stroke-width="0.9"/>
<text transform="translate(34.3,230.1) rotate(90)" font-size="6.3" font-weight="bold" fill="#111" stroke="#111" stroke-width="0.45" textLength="28.7" lengthAdjust="spacingAndGlyphs">(-)Control</text>
<text transform="translate(54.9,230.1) rotate(90)" font-size="6.7" font-weight="bold" fill="#111" stroke="#111" stroke-width="0.45" textLength="52.1" lengthAdjust="spacingAndGlyphs">Acetic Acid 0.7%</text>
<text x="78.5" y="234.4" font-size="6.5" font-weight="bold" text-anchor="middle" fill="#111" stroke="#111" stroke-width="0.45">1</text>
<text x="98.9" y="234.4" font-size="6.5" font-weight="bold" text-anchor="middle" fill="#111" stroke="#111" stroke-width="0.45">2</text>
<text x="118.8" y="234.4" font-size="6.5" font-weight="bold" text-anchor="middle" fill="#111" stroke="#111" stroke-width="0.45">5</text>
<line x1="70" y1="235.5" x2="122.5" y2="235.5" stroke="#111" stroke-width="0.8"/>
<text x="72.3" y="244.2" font-size="6.8" font-weight="bold" text-anchor="start" textLength="43.6" lengthAdjust="spacingAndGlyphs" fill="#111" stroke="#111" stroke-width="0.45">HMGB1 (μg/g)</text>
<text transform="translate(14.4,226.5) rotate(-90)" font-size="6.8" font-weight="bold" fill="#111" stroke="#111" stroke-width="0.45" textLength="77" lengthAdjust="spacingAndGlyphs">Evans Blue (μg/mouse)</text>
<polyline points="36.5,156.5 36.5,152.5 57.5,152.5 57.5,156.5" fill="none" stroke="#111" stroke-width="1.1"/>
<circle cx="44.6" cy="147.6" r="1.55" fill="#111"/>
<circle cx="49.4" cy="147.6" r="1.55" fill="#111"/>
<polyline points="87.5,201.5 87.5,196.5 122.5,196.5 122.5,202.5" fill="none" stroke="#111" stroke-width="1.1"/>
<line x1="80" y1="201.5" x2="101.3" y2="201.5" stroke="#111" stroke-width="1.1"/>
<circle cx="106.3" cy="193.8" r="1.55" fill="#111"/>
<text x="131.6" y="138.4" font-size="11.5" font-weight="bold" text-anchor="start" fill="#111" stroke="#111" stroke-width="0.45">G</text>
<line x1="141.5" y1="143.9" x2="141.5" y2="227.15" stroke="#111" stroke-width="1.1"/>
<line x1="141.45" y1="226.5" x2="250" y2="226.5" stroke="#111" stroke-width="1.1"/>
<line x1="250.5" y1="226.7" x2="250.5" y2="224.2" stroke="#111" stroke-width="1.1"/>
<line x1="141.9" y1="226.5" x2="145.7" y2="226.5" stroke="#111" stroke-width="1.1"/>
<text x="137" y="229.55" font-size="6.4" font-weight="bold" text-anchor="end" fill="#111" stroke="#111" stroke-width="0.45">0</text>
<line x1="141.9" y1="206.5" x2="145.7" y2="206.5" stroke="#111" stroke-width="1.1"/>
<text x="137" y="208.85" font-size="6.4" font-weight="bold" text-anchor="end" fill="#111" stroke="#111" stroke-width="0.45">2</text>
<line x1="141.9" y1="185.5" x2="145.7" y2="185.5" stroke="#111" stroke-width="1.1"/>
<text x="137" y="188.15" font-size="6.4" font-weight="bold" text-anchor="end" fill="#111" stroke="#111" stroke-width="0.45">4</text>
<line x1="141.9" y1="164.5" x2="145.7" y2="164.5" stroke="#111" stroke-width="1.1"/>
<text x="137" y="167.45" font-size="6.4" font-weight="bold" text-anchor="end" fill="#111" stroke="#111" stroke-width="0.45">6</text>
<line x1="141.9" y1="143.5" x2="145.7" y2="143.5" stroke="#111" stroke-width="1.1"/>
<text x="137" y="146.75" font-size="6.4" font-weight="bold" text-anchor="end" fill="#111" stroke="#111" stroke-width="0.45">8</text>
<line x1="141.9" y1="216.5" x2="144.5" y2="216.5" stroke="#111" stroke-width="1.1"/>
<line x1="141.9" y1="195.5" x2="144.5" y2="195.5" stroke="#111" stroke-width="1.1"/>
<line x1="141.9" y1="174.5" x2="144.5" y2="174.5" stroke="#111" stroke-width="1.1"/>
<line x1="141.9" y1="154.5" x2="144.5" y2="154.5" stroke="#111" stroke-width="1.1"/>
<line x1="163.5" y1="226.7" x2="163.5" y2="224.2" stroke="#111" stroke-width="1.1"/>
<line x1="185.5" y1="226.7" x2="185.5" y2="224.2" stroke="#111" stroke-width="1.1"/>
<line x1="206.5" y1="226.7" x2="206.5" y2="224.2" stroke="#111" stroke-width="1.1"/>
<line x1="228.5" y1="226.7" x2="228.5" y2="224.2" stroke="#111" stroke-width="1.1"/>
<line x1="152.5" y1="221.32" x2="152.5" y2="221.01" stroke="#333" stroke-width="0.8"/>
<line x1="149.46" y1="221.5" x2="156.34" y2="221.5" stroke="#333" stroke-width="0.8"/>
<rect x="146.8" y="221.72" width="12.2" height="4.98" fill="#808080" stroke="#525252" stroke-width="0.9"/>
<line x1="174.5" y1="159.43" x2="174.5" y2="156.01" stroke="#333" stroke-width="0.8"/>
<line x1="170.86" y1="156.5" x2="177.75" y2="156.5" stroke="#333" stroke-width="0.8"/>
<rect x="168.2" y="159.83" width="12.2" height="66.87" fill="#808080" stroke="#525252" stroke-width="0.9"/>
<line x1="196.5" y1="221.32" x2="196.5" y2="221.01" stroke="#333" stroke-width="0.8"/>
<line x1="192.56" y1="221.5" x2="199.44" y2="221.5" stroke="#333" stroke-width="0.8"/>
<rect x="189.9" y="221.72" width="12.2" height="4.98" fill="#808080" stroke="#525252" stroke-width="0.9"/>
<line x1="217.5" y1="221.32" x2="217.5" y2="221.01" stroke="#333" stroke-width="0.8"/>
<line x1="213.81" y1="221.5" x2="220.69" y2="221.5" stroke="#333" stroke-width="0.8"/>
<rect x="211.15" y="221.72" width="12.2" height="4.98" fill="#808080" stroke="#525252" stroke-width="0.9"/>
<line x1="239.5" y1="180.12" x2="239.5" y2="177.85" stroke="#333" stroke-width="0.8"/>
<line x1="235.56" y1="177.5" x2="242.44" y2="177.5" stroke="#333" stroke-width="0.8"/>
<rect x="232.9" y="180.53" width="12.2" height="46.17" fill="#808080" stroke="#525252" stroke-width="0.9"/>
<text transform="translate(152.1,227.5) rotate(90)" font-size="6.1" font-weight="bold" fill="#111" stroke="#111" stroke-width="0.45" textLength="28.4" lengthAdjust="spacingAndGlyphs">(-)Control</text>
<text transform="translate(172.6,228.2) rotate(90)" font-size="6.5" font-weight="bold" fill="#111" stroke="#111" stroke-width="0.45" textLength="45.2" lengthAdjust="spacingAndGlyphs">Acetic Acid 0.7%</text>
<text x="196.6" y="235" font-size="6.5" font-weight="bold" text-anchor="middle" textLength="9.3" lengthAdjust="spacingAndGlyphs" fill="#111" stroke="#111" stroke-width="0.45">2.5</text>
<text x="217.2" y="235" font-size="6.5" font-weight="bold" text-anchor="middle" fill="#111" stroke="#111" stroke-width="0.45">5</text>
<text x="239.4" y="235" font-size="6.5" font-weight="bold" text-anchor="middle" textLength="6.5" lengthAdjust="spacingAndGlyphs" fill="#111" stroke="#111" stroke-width="0.45">10</text>
<line x1="186.3" y1="236.5" x2="243.8" y2="236.5" stroke="#111" stroke-width="0.8"/>
<text x="201.3" y="244" font-size="6.5" font-weight="bold" text-anchor="start" textLength="27.5" lengthAdjust="spacingAndGlyphs" fill="#111" stroke="#111" stroke-width="0.45">H4 (μg/g)</text>
<polyline points="154.5,155.5 154.5,150.5 176.5,150.5 176.5,155.5" fill="none" stroke="#111" stroke-width="1.1"/>
<circle cx="163.8" cy="146.6" r="1.55" fill="#111"/>
<circle cx="168.6" cy="146.6" r="1.55" fill="#111"/>
<polyline points="204.5,165.5 204.5,160.5 239.5,160.5 239.5,165.5" fill="none" stroke="#111" stroke-width="1.1"/>
<line x1="194.5" y1="164.5" x2="215" y2="164.5" stroke="#111" stroke-width="1.1"/>
<circle cx="216.1" cy="156.8" r="1.55" fill="#111"/>
<circle cx="220.9" cy="156.8" r="1.55" fill="#111"/>
<text x="277.6" y="138.4" font-size="11.5" font-weight="bold" text-anchor="start" fill="#111" stroke="#111" stroke-width="0.45">H</text>
<line x1="288.5" y1="145.3" x2="288.5" y2="223.45" stroke="#111" stroke-width="1.1"/>
<line x1="288.05" y1="223.5" x2="388" y2="223.5" stroke="#111" stroke-width="1.1"/>
<line x1="388.5" y1="223" x2="388.5" y2="220.5" stroke="#111" stroke-width="1.1"/>
<line x1="288.5" y1="223.5" x2="292.3" y2="223.5" stroke="#111" stroke-width="1.1"/>
<text x="283.6" y="225.85" font-size="6.4" font-weight="bold" text-anchor="end" fill="#111" stroke="#111" stroke-width="0.45">0</text>
<line x1="288.5" y1="203.5" x2="292.3" y2="203.5" stroke="#111" stroke-width="1.1"/>
<text x="283.6" y="206.45" font-size="6.4" font-weight="bold" text-anchor="end" fill="#111" stroke="#111" stroke-width="0.45">2</text>
<line x1="288.5" y1="184.5" x2="292.3" y2="184.5" stroke="#111" stroke-width="1.1"/>
<text x="283.6" y="187.05" font-size="6.4" font-weight="bold" text-anchor="end" fill="#111" stroke="#111" stroke-width="0.45">4</text>
<line x1="288.5" y1="164.5" x2="292.3" y2="164.5" stroke="#111" stroke-width="1.1"/>
<text x="283.6" y="167.65" font-size="6.4" font-weight="bold" text-anchor="end" fill="#111" stroke="#111" stroke-width="0.45">6</text>
<line x1="288.5" y1="145.5" x2="292.3" y2="145.5" stroke="#111" stroke-width="1.1"/>
<text x="283.6" y="148.25" font-size="6.4" font-weight="bold" text-anchor="end" fill="#111" stroke="#111" stroke-width="0.45">8</text>
<line x1="288.5" y1="213.5" x2="291.1" y2="213.5" stroke="#111" stroke-width="1.1"/>
<line x1="288.5" y1="193.5" x2="291.1" y2="193.5" stroke="#111" stroke-width="1.1"/>
<line x1="288.5" y1="174.5" x2="291.1" y2="174.5" stroke="#111" stroke-width="1.1"/>
<line x1="288.5" y1="155.5" x2="291.1" y2="155.5" stroke="#111" stroke-width="1.1"/>
<line x1="308.5" y1="223" x2="308.5" y2="220.5" stroke="#111" stroke-width="1.1"/>
<line x1="328.5" y1="223" x2="328.5" y2="220.5" stroke="#111" stroke-width="1.1"/>
<line x1="348.5" y1="223" x2="348.5" y2="220.5" stroke="#111" stroke-width="1.1"/>
<line x1="368.5" y1="223" x2="368.5" y2="220.5" stroke="#111" stroke-width="1.1"/>
<line x1="298.5" y1="218.15" x2="298.5" y2="217.86" stroke="#333" stroke-width="0.8"/>
<line x1="294.32" y1="217.5" x2="302.28" y2="217.5" stroke="#333" stroke-width="0.8"/>
<rect x="291.2" y="218.55" width="14.2" height="4.45" fill="#808080" stroke="#525252" stroke-width="0.9"/>
<line x1="318.5" y1="159.76" x2="318.5" y2="153.06" stroke="#333" stroke-width="0.8"/>
<line x1="314.62" y1="153.5" x2="322.58" y2="153.5" stroke="#333" stroke-width="0.8"/>
<rect x="311.5" y="160.16" width="14.2" height="62.84" fill="#808080" stroke="#525252" stroke-width="0.9"/>
<line x1="338.5" y1="217.66" x2="338.5" y2="217.18" stroke="#333" stroke-width="0.8"/>
<line x1="334.52" y1="217.5" x2="342.48" y2="217.5" stroke="#333" stroke-width="0.8"/>
<rect x="331.4" y="218.06" width="14.2" height="4.93" fill="#808080" stroke="#525252" stroke-width="0.9"/>
<line x1="358.5" y1="218.15" x2="358.5" y2="217.86" stroke="#333" stroke-width="0.8"/>
<line x1="354.62" y1="217.5" x2="362.58" y2="217.5" stroke="#333" stroke-width="0.8"/>
<rect x="351.5" y="218.55" width="14.2" height="4.45" fill="#808080" stroke="#525252" stroke-width="0.9"/>
<line x1="378.5" y1="203.12" x2="378.5" y2="201.18" stroke="#333" stroke-width="0.8"/>
<line x1="374.72" y1="201.5" x2="382.68" y2="201.5" stroke="#333" stroke-width="0.8"/>
<rect x="371.6" y="203.52" width="14.2" height="19.48" fill="#808080" stroke="#525252" stroke-width="0.9"/>
<text transform="translate(297.1,224.9) rotate(90)" font-size="6.3" font-weight="bold" fill="#111" stroke="#111" stroke-width="0.45" textLength="28.5" lengthAdjust="spacingAndGlyphs">(-)Control</text>
<text transform="translate(315.4,224.9) rotate(90)" font-size="6.7" font-weight="bold" fill="#111" stroke="#111" stroke-width="0.45" textLength="51.8" lengthAdjust="spacingAndGlyphs">Acetic Acid 0.7%</text>
<text x="339" y="230.2" font-size="6.5" font-weight="bold" text-anchor="middle" textLength="7.5" lengthAdjust="spacingAndGlyphs" fill="#111" stroke="#111" stroke-width="0.45">35</text>
<text x="360" y="230.2" font-size="6.5" font-weight="bold" text-anchor="middle" textLength="7.5" lengthAdjust="spacingAndGlyphs" fill="#111" stroke="#111" stroke-width="0.45">75</text>
<text x="379.3" y="230.2" font-size="6.5" font-weight="bold" text-anchor="middle" textLength="10.8" lengthAdjust="spacingAndGlyphs" fill="#111" stroke="#111" stroke-width="0.45">150</text>
<line x1="331.3" y1="231.5" x2="386" y2="231.5" stroke="#111" stroke-width="0.8"/>
<text x="338.8" y="240" font-size="6.5" font-weight="bold" text-anchor="start" textLength="36.2" lengthAdjust="spacingAndGlyphs" fill="#111" stroke="#111" stroke-width="0.45">PolyP (μg/g)</text>
<polyline points="297.5,151.5 297.5,147.5 318.5,147.5 318.5,151.5" fill="none" stroke="#111" stroke-width="1.1"/>
<circle cx="307.4" cy="143.1" r="1.55" fill="#111"/>
<circle cx="312.2" cy="143.1" r="1.55" fill="#111"/>
<polyline points="346.5,193.5 346.5,188.5 380.5,188.5 380.5,193.5" fill="none" stroke="#111" stroke-width="1.1"/>
<line x1="338.8" y1="193.5" x2="360" y2="193.5" stroke="#111" stroke-width="1.1"/>
<circle cx="365" cy="184.6" r="1.55" fill="#111"/>
<text x="403.6" y="138.4" font-size="11.5" font-weight="bold" text-anchor="start" fill="#111" stroke="#111" stroke-width="0.45">I</text>
<line x1="414.5" y1="147.3" x2="414.5" y2="229.25" stroke="#111" stroke-width="1.1"/>
<line x1="413.75" y1="228.5" x2="519.5" y2="228.5" stroke="#111" stroke-width="1.1"/>
<line x1="519.5" y1="228.8" x2="519.5" y2="226.3" stroke="#111" stroke-width="1.1"/>
<line x1="414.2" y1="228.5" x2="418" y2="228.5" stroke="#111" stroke-width="1.1"/>
<text x="408.8" y="231.65" font-size="6.4" font-weight="bold" text-anchor="end" fill="#111" stroke="#111" stroke-width="0.45">0</text>
<line x1="414.2" y1="208.5" x2="418" y2="208.5" stroke="#111" stroke-width="1.1"/>
<text x="408.8" y="211.27" font-size="6.4" font-weight="bold" text-anchor="end" fill="#111" stroke="#111" stroke-width="0.45">2</text>
<line x1="414.2" y1="188.5" x2="418" y2="188.5" stroke="#111" stroke-width="1.1"/>
<text x="408.8" y="190.89" font-size="6.4" font-weight="bold" text-anchor="end" fill="#111" stroke="#111" stroke-width="0.45">4</text>
<line x1="414.2" y1="167.5" x2="418" y2="167.5" stroke="#111" stroke-width="1.1"/>
<text x="408.8" y="170.51" font-size="6.4" font-weight="bold" text-anchor="end" fill="#111" stroke="#111" stroke-width="0.45">6</text>
<line x1="414.2" y1="147.5" x2="418" y2="147.5" stroke="#111" stroke-width="1.1"/>
<text x="408.8" y="150.13" font-size="6.4" font-weight="bold" text-anchor="end" fill="#111" stroke="#111" stroke-width="0.45">8</text>
<line x1="414.2" y1="218.5" x2="416.8" y2="218.5" stroke="#111" stroke-width="1.1"/>
<line x1="414.2" y1="198.5" x2="416.8" y2="198.5" stroke="#111" stroke-width="1.1"/>
<line x1="414.2" y1="177.5" x2="416.8" y2="177.5" stroke="#111" stroke-width="1.1"/>
<line x1="414.2" y1="157.5" x2="416.8" y2="157.5" stroke="#111" stroke-width="1.1"/>
<line x1="431.5" y1="228.8" x2="431.5" y2="226.3" stroke="#111" stroke-width="1.1"/>
<line x1="449.5" y1="228.8" x2="449.5" y2="226.3" stroke="#111" stroke-width="1.1"/>
<line x1="466.5" y1="228.8" x2="466.5" y2="226.3" stroke="#111" stroke-width="1.1"/>
<line x1="484.5" y1="228.8" x2="484.5" y2="226.3" stroke="#111" stroke-width="1.1"/>
<line x1="501.5" y1="228.8" x2="501.5" y2="226.3" stroke="#111" stroke-width="1.1"/>
<line x1="422.5" y1="223.2" x2="422.5" y2="222.89" stroke="#333" stroke-width="0.8"/>
<line x1="419.38" y1="222.5" x2="426.42" y2="222.5" stroke="#333" stroke-width="0.8"/>
<rect x="416.65" y="223.6" width="12.5" height="5.2" fill="#808080" stroke="#525252" stroke-width="0.9"/>
<line x1="440.5" y1="163.07" x2="440.5" y2="155.23" stroke="#333" stroke-width="0.8"/>
<line x1="436.88" y1="155.5" x2="443.92" y2="155.5" stroke="#333" stroke-width="0.8"/>
<rect x="434.15" y="163.47" width="12.5" height="65.33" fill="#808080" stroke="#525252" stroke-width="0.9"/>
<line x1="457.5" y1="163.07" x2="457.5" y2="155.23" stroke="#333" stroke-width="0.8"/>
<line x1="454.38" y1="155.5" x2="461.42" y2="155.5" stroke="#333" stroke-width="0.8"/>
<rect x="451.65" y="163.47" width="12.5" height="65.33" fill="#808080" stroke="#525252" stroke-width="0.9"/>
<line x1="475.5" y1="160.02" x2="475.5" y2="152.07" stroke="#333" stroke-width="0.8"/>
<line x1="472.28" y1="152.5" x2="479.32" y2="152.5" stroke="#333" stroke-width="0.8"/>
<rect x="469.55" y="160.42" width="12.5" height="68.38" fill="#808080" stroke="#525252" stroke-width="0.9"/>
<line x1="493.5" y1="222.48" x2="493.5" y2="222.07" stroke="#333" stroke-width="0.8"/>
<line x1="489.58" y1="222.5" x2="496.62" y2="222.5" stroke="#333" stroke-width="0.8"/>
<rect x="486.85" y="222.88" width="12.5" height="5.92" fill="#808080" stroke="#525252" stroke-width="0.9"/>
<line x1="510.5" y1="222.48" x2="510.5" y2="222.07" stroke="#333" stroke-width="0.8"/>
<line x1="506.98" y1="222.5" x2="514.02" y2="222.5" stroke="#333" stroke-width="0.8"/>
<rect x="504.25" y="222.88" width="12.5" height="5.92" fill="#808080" stroke="#525252" stroke-width="0.9"/>
<text transform="translate(491.3,178.6) rotate(90)" font-size="5.5" font-weight="bold" fill="#111" stroke="#111" stroke-width="0.45" textLength="41.5" lengthAdjust="spacingAndGlyphs">HMGB1+PolyP</text>
<text transform="translate(508,187.4) rotate(90)" font-size="5.5" font-weight="bold" fill="#111" stroke="#111" stroke-width="0.45" textLength="25.8" lengthAdjust="spacingAndGlyphs">H4+PolyP</text>
<text transform="translate(422,230.2) rotate(90)" font-size="6.4" font-weight="bold" fill="#111" stroke="#111" stroke-width="0.45" textLength="28.2" lengthAdjust="spacingAndGlyphs">(-)Control</text>
<text transform="translate(438.6,230.9) rotate(90)" font-size="6.3" font-weight="bold" fill="#111" stroke="#111" stroke-width="0.45" textLength="46.8" lengthAdjust="spacingAndGlyphs">Acetic Acid 0.7 %</text>
<text transform="translate(458.3,230.9) rotate(90)" font-size="4.6" font-weight="bold" fill="#111" stroke="#111" stroke-width="0.45" textLength="49.7" lengthAdjust="spacingAndGlyphs">HMGB1(-)+PolyP(35)</text>
<text transform="translate(474.6,230.9) rotate(90)" font-size="4.6" font-weight="bold" fill="#111" stroke="#111" stroke-width="0.45" textLength="42.3" lengthAdjust="spacingAndGlyphs">H4(2.5)+PolyP(35)</text>
<text x="493.5" y="234.8" font-size="6" font-weight="bold" text-anchor="middle" textLength="11" lengthAdjust="spacingAndGlyphs" fill="#111" stroke="#111" stroke-width="0.45">+0.2</text>
<text x="510.3" y="234.8" font-size="6" font-weight="bold" text-anchor="middle" textLength="11" lengthAdjust="spacingAndGlyphs" fill="#111" stroke="#111" stroke-width="0.45">+0.2</text>
<line x1="486.5" y1="235.5" x2="517.2" y2="235.5" stroke="#111" stroke-width="0.8"/>
<text x="486.5" y="243" font-size="6.2" font-weight="bold" text-anchor="start" textLength="29.3" lengthAdjust="spacingAndGlyphs" fill="#111" stroke="#111" stroke-width="0.45">APC (μg/g)</text>
<polyline points="425.5,148.5 425.5,144.5 459.5,144.5 459.5,148.5" fill="none" stroke="#111" stroke-width="1.1"/>
<circle cx="439.5" cy="140.4" r="1.55" fill="#111"/>
<circle cx="444.3" cy="140.4" r="1.55" fill="#111"/>
<polyline points="468.5,148.5 468.5,144.5 501.5,144.5 501.5,148.5" fill="none" stroke="#111" stroke-width="1.1"/>
<circle cx="484.1" cy="140.4" r="1.55" fill="#111"/>
<circle cx="488.9" cy="140.4" r="1.55" fill="#111"/>
<line x1="440.7" y1="149.5" x2="475.9" y2="149.5" stroke="#111" stroke-width="1.1"/>
<line x1="490.7" y1="149.5" x2="511.6" y2="149.5" stroke="#111" stroke-width="1.1"/>
<text x="1.5" y="293.2" font-size="11.5" font-weight="bold" text-anchor="start" fill="#111" stroke="#111" stroke-width="0.45">J</text>
<line x1="17.5" y1="304.1" x2="17.5" y2="385.85" stroke="#111" stroke-width="1.1"/>
<line x1="16.75" y1="385.5" x2="122.5" y2="385.5" stroke="#111" stroke-width="1.1"/>
<line x1="122.5" y1="385.4" x2="122.5" y2="382.9" stroke="#111" stroke-width="1.1"/>
<line x1="17.2" y1="385.5" x2="21" y2="385.5" stroke="#111" stroke-width="1.1"/>
<text x="12.2" y="388.25" font-size="6.4" font-weight="bold" text-anchor="end" fill="#111" stroke="#111" stroke-width="0.45">0</text>
<line x1="17.2" y1="365.5" x2="21" y2="365.5" stroke="#111" stroke-width="1.1"/>
<text x="12.2" y="367.95" font-size="6.4" font-weight="bold" text-anchor="end" fill="#111" stroke="#111" stroke-width="0.45">2</text>
<line x1="17.2" y1="344.5" x2="21" y2="344.5" stroke="#111" stroke-width="1.1"/>
<text x="12.2" y="347.65" font-size="6.4" font-weight="bold" text-anchor="end" fill="#111" stroke="#111" stroke-width="0.45">4</text>
<line x1="17.2" y1="324.5" x2="21" y2="324.5" stroke="#111" stroke-width="1.1"/>
<text x="12.2" y="327.35" font-size="6.4" font-weight="bold" text-anchor="end" fill="#111" stroke="#111" stroke-width="0.45">6</text>
<line x1="17.2" y1="304.5" x2="21" y2="304.5" stroke="#111" stroke-width="1.1"/>
<text x="12.2" y="307.05" font-size="6.4" font-weight="bold" text-anchor="end" fill="#111" stroke="#111" stroke-width="0.45">8</text>
<line x1="17.2" y1="375.5" x2="19.8" y2="375.5" stroke="#111" stroke-width="1.1"/>
<line x1="17.2" y1="354.5" x2="19.8" y2="354.5" stroke="#111" stroke-width="1.1"/>
<line x1="17.2" y1="334.5" x2="19.8" y2="334.5" stroke="#111" stroke-width="1.1"/>
<line x1="17.2" y1="314.5" x2="19.8" y2="314.5" stroke="#111" stroke-width="1.1"/>
<line x1="37.5" y1="385.4" x2="37.5" y2="382.9" stroke="#111" stroke-width="1.1"/>
<line x1="58.5" y1="385.4" x2="58.5" y2="382.9" stroke="#111" stroke-width="1.1"/>
<line x1="80.5" y1="385.4" x2="80.5" y2="382.9" stroke="#111" stroke-width="1.1"/>
<line x1="101.5" y1="385.4" x2="101.5" y2="382.9" stroke="#111" stroke-width="1.1"/>
<line x1="27.5" y1="367.94" x2="27.5" y2="366.11" stroke="#333" stroke-width="0.8"/>
<line x1="23.26" y1="366.5" x2="31.74" y2="366.5" stroke="#333" stroke-width="0.8"/>
<rect x="19.9" y="368.34" width="15.2" height="17.06" fill="#808080" stroke="#525252" stroke-width="0.9"/>
<line x1="48.5" y1="322.98" x2="48.5" y2="316.08" stroke="#333" stroke-width="0.8"/>
<line x1="43.86" y1="316.5" x2="52.34" y2="316.5" stroke="#333" stroke-width="0.8"/>
<rect x="40.5" y="323.38" width="15.2" height="62.02" fill="#808080" stroke="#525252" stroke-width="0.9"/>
<line x1="69.5" y1="366.62" x2="69.5" y2="364.08" stroke="#333" stroke-width="0.8"/>
<line x1="65.16" y1="364.5" x2="73.64" y2="364.5" stroke="#333" stroke-width="0.8"/>
<rect x="61.8" y="367.02" width="15.2" height="18.38" fill="#808080" stroke="#525252" stroke-width="0.9"/>
<line x1="90.5" y1="366.11" x2="90.5" y2="364.08" stroke="#333" stroke-width="0.8"/>
<line x1="86.36" y1="364.5" x2="94.84" y2="364.5" stroke="#333" stroke-width="0.8"/>
<rect x="83" y="366.51" width="15.2" height="18.89" fill="#808080" stroke="#525252" stroke-width="0.9"/>
<line x1="111.5" y1="353.93" x2="111.5" y2="350.08" stroke="#333" stroke-width="0.8"/>
<line x1="107.16" y1="350.5" x2="115.64" y2="350.5" stroke="#333" stroke-width="0.8"/>
<rect x="103.8" y="354.33" width="15.2" height="31.07" fill="#808080" stroke="#525252" stroke-width="0.9"/>
<text transform="translate(25,387.6) rotate(90)" font-size="6.6" font-weight="bold" fill="#111" stroke="#111" stroke-width="0.45" textLength="29.3" lengthAdjust="spacingAndGlyphs">(-)Control</text>
<text transform="translate(45,387.6) rotate(90)" font-size="6.6" font-weight="bold" fill="#111" stroke="#111" stroke-width="0.45" textLength="44.9" lengthAdjust="spacingAndGlyphs">CMC-Na (1.5%)</text>
<text x="68.2" y="393.6" font-size="6.5" font-weight="bold" text-anchor="middle" fill="#111" stroke="#111" stroke-width="0.45">1</text>
<text x="89.6" y="393.6" font-size="6.5" font-weight="bold" text-anchor="middle" fill="#111" stroke="#111" stroke-width="0.45">2</text>
<text x="110.2" y="393.6" font-size="6.5" font-weight="bold" text-anchor="middle" fill="#111" stroke="#111" stroke-width="0.45">5</text>
<line x1="61.3" y1="395.5" x2="115" y2="395.5" stroke="#111" stroke-width="0.8"/>
<text x="65.5" y="402.4" font-size="6.5" font-weight="bold" text-anchor="start" textLength="44.5" lengthAdjust="spacingAndGlyphs" fill="#111" stroke="#111" stroke-width="0.45">HMGB1 (μg/g)</text>
<text transform="translate(6.4,373.4) rotate(-90)" font-size="6.8" font-weight="bold" fill="#111" stroke="#111" stroke-width="0.45" textLength="68.5" lengthAdjust="spacingAndGlyphs">Leukocytes (10<tspan font-size="4.3" dy="-2.2">6</tspan><tspan dy="2.2">/ml)</tspan></text>
<polyline points="27.5,312.5 27.5,309.5 47.5,309.5 47.5,312.5" fill="none" stroke="#111" stroke-width="1.1"/>
<circle cx="35.7" cy="305.1" r="1.55" fill="#111"/>
<circle cx="40.5" cy="305.1" r="1.55" fill="#111"/>
<polyline points="80.5,337.5 80.5,332.5 115.5,332.5 115.5,337.5" fill="none" stroke="#111" stroke-width="1.1"/>
<line x1="64.5" y1="337.5" x2="95" y2="337.5" stroke="#111" stroke-width="1.1"/>
<circle cx="99.3" cy="328.2" r="1.55" fill="#111"/>
<text x="131.8" y="293.2" font-size="11.5" font-weight="bold" text-anchor="start" fill="#111" stroke="#111" stroke-width="0.45">K</text>
<line x1="146.5" y1="298.7" x2="146.5" y2="383.25" stroke="#111" stroke-width="1.1"/>
<line x1="146.05" y1="382.5" x2="255.5" y2="382.5" stroke="#111" stroke-width="1.1"/>
<line x1="255.5" y1="382.8" x2="255.5" y2="380.3" stroke="#111" stroke-width="1.1"/>
<line x1="146.5" y1="382.5" x2="150.3" y2="382.5" stroke="#111" stroke-width="1.1"/>
<text x="141.3" y="385.65" font-size="6.4" font-weight="bold" text-anchor="end" fill="#111" stroke="#111" stroke-width="0.45">0</text>
<line x1="146.5" y1="361.5" x2="150.3" y2="361.5" stroke="#111" stroke-width="1.1"/>
<text x="141.3" y="364.65" font-size="6.4" font-weight="bold" text-anchor="end" fill="#111" stroke="#111" stroke-width="0.45">2</text>
<line x1="146.5" y1="340.5" x2="150.3" y2="340.5" stroke="#111" stroke-width="1.1"/>
<text x="141.3" y="343.65" font-size="6.4" font-weight="bold" text-anchor="end" fill="#111" stroke="#111" stroke-width="0.45">4</text>
<line x1="146.5" y1="319.5" x2="150.3" y2="319.5" stroke="#111" stroke-width="1.1"/>
<text x="141.3" y="322.65" font-size="6.4" font-weight="bold" text-anchor="end" fill="#111" stroke="#111" stroke-width="0.45">6</text>
<line x1="146.5" y1="298.5" x2="150.3" y2="298.5" stroke="#111" stroke-width="1.1"/>
<text x="141.3" y="301.65" font-size="6.4" font-weight="bold" text-anchor="end" fill="#111" stroke="#111" stroke-width="0.45">8</text>
<line x1="146.5" y1="372.5" x2="149.1" y2="372.5" stroke="#111" stroke-width="1.1"/>
<line x1="146.5" y1="351.5" x2="149.1" y2="351.5" stroke="#111" stroke-width="1.1"/>
<line x1="146.5" y1="330.5" x2="149.1" y2="330.5" stroke="#111" stroke-width="1.1"/>
<line x1="146.5" y1="309.5" x2="149.1" y2="309.5" stroke="#111" stroke-width="1.1"/>
<line x1="168.5" y1="382.8" x2="168.5" y2="380.3" stroke="#111" stroke-width="1.1"/>
<line x1="190.5" y1="382.8" x2="190.5" y2="380.3" stroke="#111" stroke-width="1.1"/>
<line x1="212.5" y1="382.8" x2="212.5" y2="380.3" stroke="#111" stroke-width="1.1"/>
<line x1="234.5" y1="382.8" x2="234.5" y2="380.3" stroke="#111" stroke-width="1.1"/>
<line x1="157.5" y1="364.95" x2="157.5" y2="363.27" stroke="#333" stroke-width="0.8"/>
<line x1="153.09" y1="363.5" x2="162.1" y2="363.5" stroke="#333" stroke-width="0.8"/>
<rect x="149.5" y="365.35" width="16.2" height="17.45" fill="#808080" stroke="#525252" stroke-width="0.9"/>
<line x1="179.5" y1="318.23" x2="179.5" y2="311.93" stroke="#333" stroke-width="0.8"/>
<line x1="175" y1="311.5" x2="184" y2="311.5" stroke="#333" stroke-width="0.8"/>
<rect x="171.4" y="318.62" width="16.2" height="64.17" fill="#808080" stroke="#525252" stroke-width="0.9"/>
<line x1="201.5" y1="360.75" x2="201.5" y2="358.65" stroke="#333" stroke-width="0.8"/>
<line x1="196.8" y1="358.5" x2="205.81" y2="358.5" stroke="#333" stroke-width="0.8"/>
<rect x="193.2" y="361.15" width="16.2" height="21.65" fill="#808080" stroke="#525252" stroke-width="0.9"/>
<line x1="223.5" y1="359.7" x2="223.5" y2="357.6" stroke="#333" stroke-width="0.8"/>
<line x1="218.59" y1="357.5" x2="227.6" y2="357.5" stroke="#333" stroke-width="0.8"/>
<rect x="215" y="360.1" width="16.2" height="22.7" fill="#808080" stroke="#525252" stroke-width="0.9"/>
<line x1="245.5" y1="342.9" x2="245.5" y2="338.7" stroke="#333" stroke-width="0.8"/>
<line x1="240.5" y1="338.5" x2="249.5" y2="338.5" stroke="#333" stroke-width="0.8"/>
<rect x="236.9" y="343.3" width="16.2" height="39.5" fill="#808080" stroke="#525252" stroke-width="0.9"/>
<text transform="translate(157.7,385) rotate(90)" font-size="6.4" font-weight="bold" fill="#111" stroke="#111" stroke-width="0.45" textLength="28.7" lengthAdjust="spacingAndGlyphs">(-)Control</text>
<text transform="translate(178.6,385) rotate(90)" font-size="6.7" font-weight="bold" fill="#111" stroke="#111" stroke-width="0.45" textLength="44.6" lengthAdjust="spacingAndGlyphs">CMC-Na (1.5%)</text>
<text x="200.6" y="391.4" font-size="6.5" font-weight="bold" text-anchor="middle" textLength="8.8" lengthAdjust="spacingAndGlyphs" fill="#111" stroke="#111" stroke-width="0.45">2.5</text>
<text x="221.3" y="391.4" font-size="6.5" font-weight="bold" text-anchor="middle" fill="#111" stroke="#111" stroke-width="0.45">5</text>
<text x="243.8" y="391.4" font-size="6.5" font-weight="bold" text-anchor="middle" textLength="7.5" lengthAdjust="spacingAndGlyphs" fill="#111" stroke="#111" stroke-width="0.45">10</text>
<line x1="191.3" y1="392.5" x2="250" y2="392.5" stroke="#111" stroke-width="0.8"/>
<text x="205" y="400.7" font-size="6.5" font-weight="bold" text-anchor="start" textLength="28.8" lengthAdjust="spacingAndGlyphs" fill="#111" stroke="#111" stroke-width="0.45">H4 (μg/g)</text>
<polyline points="158.5,305.5 158.5,301.5 180.5,301.5 180.5,305.5" fill="none" stroke="#111" stroke-width="1.1"/>
<circle cx="167.6" cy="297.2" r="1.55" fill="#111"/>
<circle cx="172.4" cy="297.2" r="1.55" fill="#111"/>
<polyline points="210.5,338.5 210.5,333.5 245.5,333.5 245.5,338.5" fill="none" stroke="#111" stroke-width="1.1"/>
<line x1="197.5" y1="338.5" x2="227.5" y2="338.5" stroke="#111" stroke-width="1.1"/>
<circle cx="227.5" cy="328.9" r="1.55" fill="#111"/>
<text x="270.1" y="293.2" font-size="11.5" font-weight="bold" text-anchor="start" fill="#111" stroke="#111" stroke-width="0.45">L</text>
<line x1="279.5" y1="300.4" x2="279.5" y2="382.55" stroke="#111" stroke-width="1.1"/>
<line x1="278.9" y1="382.5" x2="382" y2="382.5" stroke="#111" stroke-width="1.1"/>
<line x1="382.5" y1="382.1" x2="382.5" y2="379.6" stroke="#111" stroke-width="1.1"/>
<line x1="279.35" y1="382.5" x2="283.15" y2="382.5" stroke="#111" stroke-width="1.1"/>
<text x="274.3" y="384.95" font-size="6.4" font-weight="bold" text-anchor="end" fill="#111" stroke="#111" stroke-width="0.45">0</text>
<line x1="279.35" y1="361.5" x2="283.15" y2="361.5" stroke="#111" stroke-width="1.1"/>
<text x="274.3" y="364.53" font-size="6.4" font-weight="bold" text-anchor="end" fill="#111" stroke="#111" stroke-width="0.45">2</text>
<line x1="279.35" y1="341.5" x2="283.15" y2="341.5" stroke="#111" stroke-width="1.1"/>
<text x="274.3" y="344.11" font-size="6.4" font-weight="bold" text-anchor="end" fill="#111" stroke="#111" stroke-width="0.45">4</text>
<line x1="279.35" y1="320.5" x2="283.15" y2="320.5" stroke="#111" stroke-width="1.1"/>
<text x="274.3" y="323.69" font-size="6.4" font-weight="bold" text-anchor="end" fill="#111" stroke="#111" stroke-width="0.45">6</text>
<line x1="279.35" y1="300.5" x2="283.15" y2="300.5" stroke="#111" stroke-width="1.1"/>
<text x="274.3" y="303.27" font-size="6.4" font-weight="bold" text-anchor="end" fill="#111" stroke="#111" stroke-width="0.45">8</text>
<line x1="279.35" y1="371.5" x2="281.95" y2="371.5" stroke="#111" stroke-width="1.1"/>
<line x1="279.35" y1="351.5" x2="281.95" y2="351.5" stroke="#111" stroke-width="1.1"/>
<line x1="279.35" y1="331.5" x2="281.95" y2="331.5" stroke="#111" stroke-width="1.1"/>
<line x1="279.35" y1="310.5" x2="281.95" y2="310.5" stroke="#111" stroke-width="1.1"/>
<line x1="300.5" y1="382.1" x2="300.5" y2="379.6" stroke="#111" stroke-width="1.1"/>
<line x1="321.5" y1="382.1" x2="321.5" y2="379.6" stroke="#111" stroke-width="1.1"/>
<line x1="343.5" y1="382.1" x2="343.5" y2="379.6" stroke="#111" stroke-width="1.1"/>
<line x1="364.5" y1="382.1" x2="364.5" y2="379.6" stroke="#111" stroke-width="1.1"/>
<line x1="290.5" y1="364.23" x2="290.5" y2="363.01" stroke="#333" stroke-width="0.8"/>
<line x1="286.08" y1="363.5" x2="294.72" y2="363.5" stroke="#333" stroke-width="0.8"/>
<rect x="282.65" y="364.63" width="15.5" height="17.47" fill="#808080" stroke="#525252" stroke-width="0.9"/>
<line x1="311.5" y1="319.61" x2="311.5" y2="313.28" stroke="#333" stroke-width="0.8"/>
<line x1="306.93" y1="313.5" x2="315.57" y2="313.5" stroke="#333" stroke-width="0.8"/>
<rect x="303.5" y="320.01" width="15.5" height="62.09" fill="#808080" stroke="#525252" stroke-width="0.9"/>
<line x1="332.5" y1="362.19" x2="332.5" y2="360.15" stroke="#333" stroke-width="0.8"/>
<line x1="328.18" y1="360.5" x2="336.82" y2="360.5" stroke="#333" stroke-width="0.8"/>
<rect x="324.75" y="362.59" width="15.5" height="19.51" fill="#808080" stroke="#525252" stroke-width="0.9"/>
<line x1="353.5" y1="363.21" x2="353.5" y2="361.17" stroke="#333" stroke-width="0.8"/>
<line x1="349.43" y1="361.5" x2="358.07" y2="361.5" stroke="#333" stroke-width="0.8"/>
<rect x="346" y="363.61" width="15.5" height="18.49" fill="#808080" stroke="#525252" stroke-width="0.9"/>
<line x1="375.5" y1="346.16" x2="375.5" y2="342.28" stroke="#333" stroke-width="0.8"/>
<line x1="370.68" y1="342.5" x2="379.32" y2="342.5" stroke="#333" stroke-width="0.8"/>
<rect x="367.25" y="346.56" width="15.5" height="35.54" fill="#808080" stroke="#525252" stroke-width="0.9"/>
<text transform="translate(289.8,384) rotate(90)" font-size="6.7" font-weight="bold" fill="#111" stroke="#111" stroke-width="0.45" textLength="29" lengthAdjust="spacingAndGlyphs">(-)Control</text>
<text transform="translate(309.7,384) rotate(90)" font-size="6.7" font-weight="bold" fill="#111" stroke="#111" stroke-width="0.45" textLength="44.3" lengthAdjust="spacingAndGlyphs">CMC-Na (1.5%)</text>
<text x="331.3" y="390.2" font-size="6.5" font-weight="bold" text-anchor="middle" textLength="7.5" lengthAdjust="spacingAndGlyphs" fill="#111" stroke="#111" stroke-width="0.45">35</text>
<text x="352.9" y="390.2" font-size="6.5" font-weight="bold" text-anchor="middle" textLength="6.8" lengthAdjust="spacingAndGlyphs" fill="#111" stroke="#111" stroke-width="0.45">75</text>
<text x="373.8" y="390.2" font-size="6.5" font-weight="bold" text-anchor="middle" textLength="10" lengthAdjust="spacingAndGlyphs" fill="#111" stroke="#111" stroke-width="0.45">150</text>
<line x1="323.8" y1="391.5" x2="380" y2="391.5" stroke="#111" stroke-width="0.8"/>
<text x="332.5" y="399.5" font-size="6.5" font-weight="bold" text-anchor="start" textLength="36.3" lengthAdjust="spacingAndGlyphs" fill="#111" stroke="#111" stroke-width="0.45">PolyP (μg/g)</text>
<polyline points="288.5,313.5 288.5,309.5 311.5,309.5 311.5,313.5" fill="none" stroke="#111" stroke-width="1.1"/>
<circle cx="297.2" cy="305.6" r="1.55" fill="#111"/>
<circle cx="302" cy="305.6" r="1.55" fill="#111"/>
<polyline points="340.5,342.5 340.5,337.5 373.5,337.5 373.5,342.5" fill="none" stroke="#111" stroke-width="1.1"/>
<line x1="328" y1="342.5" x2="358" y2="342.5" stroke="#111" stroke-width="1.1"/>
<circle cx="358" cy="332.6" r="1.55" fill="#111"/>
<text x="394.2" y="293.2" font-size="11.5" font-weight="bold" text-anchor="start" fill="#111" stroke="#111" stroke-width="0.45">M</text>
<line x1="406.5" y1="304.3" x2="406.5" y2="386.55" stroke="#111" stroke-width="1.1"/>
<line x1="406.15" y1="386.5" x2="513" y2="386.5" stroke="#111" stroke-width="1.1"/>
<line x1="513.5" y1="386.1" x2="513.5" y2="383.6" stroke="#111" stroke-width="1.1"/>
<line x1="406.6" y1="386.5" x2="410.4" y2="386.5" stroke="#111" stroke-width="1.1"/>
<text x="401.5" y="388.95" font-size="6.4" font-weight="bold" text-anchor="end" fill="#111" stroke="#111" stroke-width="0.45">0</text>
<line x1="406.6" y1="365.5" x2="410.4" y2="365.5" stroke="#111" stroke-width="1.1"/>
<text x="401.5" y="368.47" font-size="6.4" font-weight="bold" text-anchor="end" fill="#111" stroke="#111" stroke-width="0.45">2</text>
<line x1="406.6" y1="345.5" x2="410.4" y2="345.5" stroke="#111" stroke-width="1.1"/>
<text x="401.5" y="347.99" font-size="6.4" font-weight="bold" text-anchor="end" fill="#111" stroke="#111" stroke-width="0.45">4</text>
<line x1="406.6" y1="324.5" x2="410.4" y2="324.5" stroke="#111" stroke-width="1.1"/>
<text x="401.5" y="327.51" font-size="6.4" font-weight="bold" text-anchor="end" fill="#111" stroke="#111" stroke-width="0.45">6</text>
<line x1="406.6" y1="304.5" x2="410.4" y2="304.5" stroke="#111" stroke-width="1.1"/>
<text x="401.5" y="307.03" font-size="6.4" font-weight="bold" text-anchor="end" fill="#111" stroke="#111" stroke-width="0.45">8</text>
<line x1="406.6" y1="375.5" x2="409.2" y2="375.5" stroke="#111" stroke-width="1.1"/>
<line x1="406.6" y1="355.5" x2="409.2" y2="355.5" stroke="#111" stroke-width="1.1"/>
<line x1="406.6" y1="334.5" x2="409.2" y2="334.5" stroke="#111" stroke-width="1.1"/>
<line x1="406.6" y1="314.5" x2="409.2" y2="314.5" stroke="#111" stroke-width="1.1"/>
<line x1="424.5" y1="386.1" x2="424.5" y2="383.6" stroke="#111" stroke-width="1.1"/>
<line x1="442.5" y1="386.1" x2="442.5" y2="383.6" stroke="#111" stroke-width="1.1"/>
<line x1="459.5" y1="386.1" x2="459.5" y2="383.6" stroke="#111" stroke-width="1.1"/>
<line x1="477.5" y1="386.1" x2="477.5" y2="383.6" stroke="#111" stroke-width="1.1"/>
<line x1="495.5" y1="386.1" x2="495.5" y2="383.6" stroke="#111" stroke-width="1.1"/>
<line x1="415.5" y1="368.28" x2="415.5" y2="366.23" stroke="#333" stroke-width="0.8"/>
<line x1="412.08" y1="366.5" x2="419.12" y2="366.5" stroke="#333" stroke-width="0.8"/>
<rect x="409.35" y="368.68" width="12.5" height="17.42" fill="#808080" stroke="#525252" stroke-width="0.9"/>
<line x1="433.5" y1="323.64" x2="433.5" y2="317.49" stroke="#333" stroke-width="0.8"/>
<line x1="429.48" y1="317.5" x2="436.52" y2="317.5" stroke="#333" stroke-width="0.8"/>
<rect x="426.75" y="324.04" width="12.5" height="62.06" fill="#808080" stroke="#525252" stroke-width="0.9"/>
<line x1="450.5" y1="333.36" x2="450.5" y2="327.83" stroke="#333" stroke-width="0.8"/>
<line x1="447.33" y1="327.5" x2="454.37" y2="327.5" stroke="#333" stroke-width="0.8"/>
<rect x="444.6" y="333.76" width="12.5" height="52.34" fill="#808080" stroke="#525252" stroke-width="0.9"/>
<line x1="468.5" y1="330.29" x2="468.5" y2="324.56" stroke="#333" stroke-width="0.8"/>
<line x1="464.93" y1="324.5" x2="471.97" y2="324.5" stroke="#333" stroke-width="0.8"/>
<rect x="462.2" y="330.69" width="12.5" height="55.41" fill="#808080" stroke="#525252" stroke-width="0.9"/>
<line x1="486.5" y1="366.64" x2="486.5" y2="364.6" stroke="#333" stroke-width="0.8"/>
<line x1="482.68" y1="364.5" x2="489.72" y2="364.5" stroke="#333" stroke-width="0.8"/>
<rect x="479.95" y="367.04" width="12.5" height="19.06" fill="#808080" stroke="#525252" stroke-width="0.9"/>
<line x1="503.5" y1="365.11" x2="503.5" y2="363.06" stroke="#333" stroke-width="0.8"/>
<line x1="500.18" y1="363.5" x2="507.22" y2="363.5" stroke="#333" stroke-width="0.8"/>
<rect x="497.45" y="365.51" width="12.5" height="20.59" fill="#808080" stroke="#525252" stroke-width="0.9"/>
<text transform="translate(484.2,321.8) rotate(90)" font-size="5.5" font-weight="bold" fill="#111" stroke="#111" stroke-width="0.45" textLength="38.9" lengthAdjust="spacingAndGlyphs">HMGB1+PolyP</text>
<text transform="translate(501.4,332.8) rotate(90)" font-size="5.5" font-weight="bold" fill="#111" stroke="#111" stroke-width="0.45" textLength="27.9" lengthAdjust="spacingAndGlyphs">H4+PolyP</text>
<text transform="translate(415.4,388) rotate(90)" font-size="6.2" font-weight="bold" fill="#111" stroke="#111" stroke-width="0.45" textLength="28.8" lengthAdjust="spacingAndGlyphs">(-)Control</text>
<text transform="translate(430.8,388.5) rotate(90)" font-size="6.6" font-weight="bold" fill="#111" stroke="#111" stroke-width="0.45" textLength="44.8" lengthAdjust="spacingAndGlyphs">CMC-Na (1.5%)</text>
<text transform="translate(450,388) rotate(90)" font-size="4.6" font-weight="bold" fill="#111" stroke="#111" stroke-width="0.45" textLength="49.7" lengthAdjust="spacingAndGlyphs">HMGB1(-)+PolyP(35)</text>
<text transform="translate(466.8,388) rotate(90)" font-size="5.3" font-weight="bold" fill="#111" stroke="#111" stroke-width="0.45" textLength="47.6" lengthAdjust="spacingAndGlyphs">H4(2.5)+PolyP(35)</text>
<text x="485.1" y="392.8" font-size="6" font-weight="bold" text-anchor="middle" textLength="11.1" lengthAdjust="spacingAndGlyphs" fill="#111" stroke="#111" stroke-width="0.45">+0.2</text>
<text x="503.5" y="392.8" font-size="6" font-weight="bold" text-anchor="middle" textLength="11.7" lengthAdjust="spacingAndGlyphs" fill="#111" stroke="#111" stroke-width="0.45">+0.2</text>
<line x1="478.2" y1="394.5" x2="510.2" y2="394.5" stroke="#111" stroke-width="0.8"/>
<text x="478.2" y="401.8" font-size="6.2" font-weight="bold" text-anchor="start" textLength="30.7" lengthAdjust="spacingAndGlyphs" fill="#111" stroke="#111" stroke-width="0.45">APC (μg/g)</text>
<polyline points="416.5,314.5 416.5,310.5 451.5,310.5 451.5,314.5" fill="none" stroke="#111" stroke-width="1.1"/>
<circle cx="431.1" cy="305.8" r="1.55" fill="#111"/>
<circle cx="435.9" cy="305.8" r="1.55" fill="#111"/>
<line x1="432.5" y1="315.5" x2="466.7" y2="315.5" stroke="#111" stroke-width="1.1"/>
<polyline points="459.5,314.5 459.5,310.5 493.5,310.5 493.5,314.5" fill="none" stroke="#111" stroke-width="1.1"/>
<circle cx="475.8" cy="305.8" r="1.55" fill="#111"/>
<circle cx="480.6" cy="305.8" r="1.55" fill="#111"/>
<line x1="483.5" y1="315.5" x2="505.5" y2="315.5" stroke="#111" stroke-width="1.1"/>
</svg>
</body></html>
